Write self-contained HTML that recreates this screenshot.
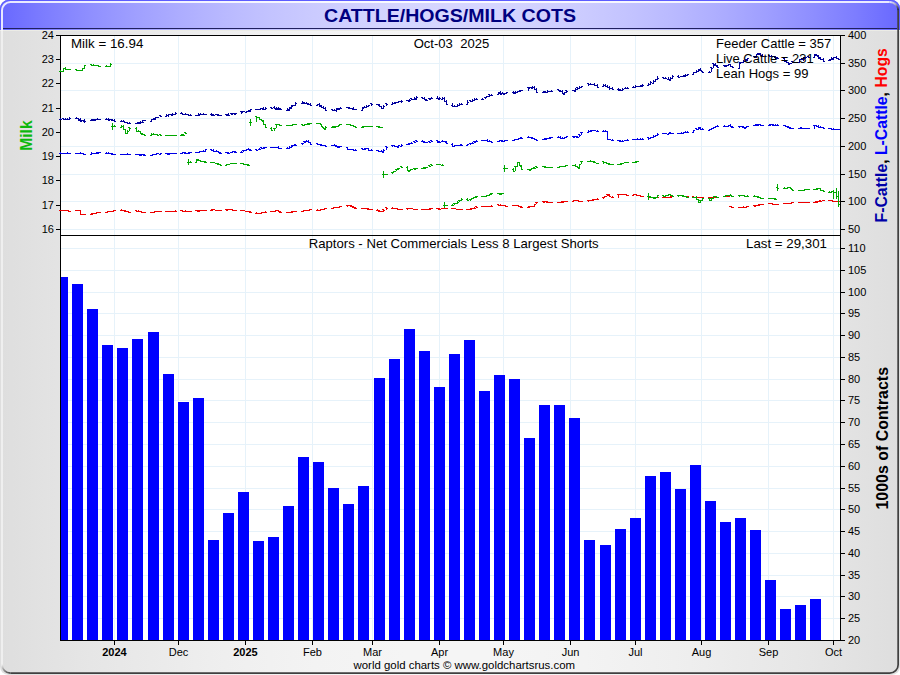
<!DOCTYPE html>
<html><head><meta charset="utf-8"><title>CATTLE/HOGS/MILK COTS</title>
<style>html,body{margin:0;padding:0;background:#fff;}svg{display:block;}text{font-family:"Liberation Sans",sans-serif;}</style></head><body>
<svg width="900" height="675" viewBox="0 0 900 675">
<defs>
<linearGradient id="gt" x1="0" x2="1" y1="0" y2="0"><stop offset="0.000" stop-color="#6868ff"/><stop offset="0.050" stop-color="#7d7dff"/><stop offset="0.100" stop-color="#8f8fff"/><stop offset="0.150" stop-color="#9f9fff"/><stop offset="0.200" stop-color="#adadff"/><stop offset="0.250" stop-color="#b9b9ff"/><stop offset="0.300" stop-color="#c3c3ff"/><stop offset="0.350" stop-color="#cbcbff"/><stop offset="0.400" stop-color="#d1d1ff"/><stop offset="0.450" stop-color="#d5d5ff"/><stop offset="0.500" stop-color="#d6d6ff"/><stop offset="0.550" stop-color="#d5d5ff"/><stop offset="0.600" stop-color="#d1d1ff"/><stop offset="0.650" stop-color="#cbcbff"/><stop offset="0.700" stop-color="#c3c3ff"/><stop offset="0.750" stop-color="#b9b9ff"/><stop offset="0.800" stop-color="#adadff"/><stop offset="0.850" stop-color="#9f9fff"/><stop offset="0.900" stop-color="#8f8fff"/><stop offset="0.950" stop-color="#7d7dff"/><stop offset="1.000" stop-color="#6868ff"/></linearGradient>
<linearGradient id="gb" x1="0" x2="1" y1="0" y2="0"><stop offset="0.000" stop-color="#dedede"/><stop offset="0.050" stop-color="#e2e2e2"/><stop offset="0.100" stop-color="#e6e6e6"/><stop offset="0.150" stop-color="#e9e9e9"/><stop offset="0.200" stop-color="#ececec"/><stop offset="0.250" stop-color="#efefef"/><stop offset="0.300" stop-color="#f1f1f1"/><stop offset="0.350" stop-color="#f3f3f3"/><stop offset="0.400" stop-color="#f4f4f4"/><stop offset="0.450" stop-color="#f5f5f5"/><stop offset="0.500" stop-color="#f5f5f5"/><stop offset="0.550" stop-color="#f5f5f5"/><stop offset="0.600" stop-color="#f4f4f4"/><stop offset="0.650" stop-color="#f3f3f3"/><stop offset="0.700" stop-color="#f1f1f1"/><stop offset="0.750" stop-color="#efefef"/><stop offset="0.800" stop-color="#ececec"/><stop offset="0.850" stop-color="#e9e9e9"/><stop offset="0.900" stop-color="#e6e6e6"/><stop offset="0.950" stop-color="#e2e2e2"/><stop offset="1.000" stop-color="#dedede"/></linearGradient>
<clipPath id="cf"><rect x="0" y="0" width="900" height="675" rx="8.5" ry="8.5"/></clipPath>
<clipPath id="cu"><rect x="59" y="36" width="781" height="199"/></clipPath>
<clipPath id="cl"><rect x="61" y="236" width="779" height="404"/></clipPath>
</defs>
<g clip-path="url(#cf)">
<rect x="0" y="0" width="900" height="675" fill="url(#gb)"/>
<rect x="0" y="0" width="900" height="30" fill="url(#gt)"/>
<rect x="3" y="28" width="894" height="1" fill="#20205e"/>
<rect x="0" y="30" width="900" height="1" fill="#ecece6"/>
</g>
<clipPath id="ct"><rect x="0" y="0" width="900" height="30"/></clipPath><clipPath id="cg"><rect x="0" y="30" width="900" height="645"/></clipPath>
<linearGradient id="gbl" gradientUnits="userSpaceOnUse" x1="2" y1="664.65" x2="10.5" y2="673.15"><stop offset="0" stop-color="#f0f0f0"/><stop offset="0.35" stop-color="#a0a0a0"/><stop offset="1" stop-color="#404040"/></linearGradient>
<linearGradient id="gtr" gradientUnits="userSpaceOnUse" x1="889.65" y1="2" x2="898.15" y2="10.5"><stop offset="0" stop-color="#e8e8ff"/><stop offset="0.45" stop-color="#b0b0d0"/><stop offset="1" stop-color="#181828"/></linearGradient>
<path d="M2 664.65V10.5A8.5 8.5 0 0 1 10.5 2H889.65" fill="none" stroke="#ffffff" stroke-opacity="0.85" stroke-width="2" clip-path="url(#ct)"/>
<path d="M2 664.65V10.5A8.5 8.5 0 0 1 10.5 2H889.65" fill="none" stroke="#ffffff" stroke-opacity="0.5" stroke-width="2" clip-path="url(#cg)"/>
<path d="M898.15 10.5V664.65A8.5 8.5 0 0 1 889.65 673.15H10.5" fill="none" stroke="#404040" stroke-width="1.7"/>
<path d="M10.5 673.15A8.5 8.5 0 0 1 2 664.65" fill="none" stroke="url(#gbl)" stroke-width="1.8"/>
<path d="M889.65 2A8.5 8.5 0 0 1 898.15 10.5" fill="none" stroke="url(#gtr)" stroke-width="1.8"/>
<path d="M0.5 30V8.5A8 8 0 0 1 8.5 0.5H891.5A8 8 0 0 1 899.5 8.5V30" fill="none" stroke="#5c5cff" stroke-width="1"/>
<text x="324" y="21.8" font-size="17.6" font-weight="bold" fill="#000080" textLength="252" lengthAdjust="spacingAndGlyphs">CATTLE/HOGS/MILK COTS</text>
<g shape-rendering="crispEdges">
<rect x="60" y="35" width="781" height="606" fill="#ffffff"/>
<rect x="114" y="36" width="1" height="604" fill="#e6f2fa"/>
<rect x="178" y="36" width="1" height="604" fill="#e6f2fa"/>
<rect x="245" y="36" width="1" height="604" fill="#e6f2fa"/>
<rect x="312" y="36" width="1" height="604" fill="#e6f2fa"/>
<rect x="372" y="36" width="1" height="604" fill="#e6f2fa"/>
<rect x="439" y="36" width="1" height="604" fill="#e6f2fa"/>
<rect x="503" y="36" width="1" height="604" fill="#e6f2fa"/>
<rect x="570" y="36" width="1" height="604" fill="#e6f2fa"/>
<rect x="635" y="36" width="1" height="604" fill="#e6f2fa"/>
<rect x="701" y="36" width="1" height="604" fill="#e6f2fa"/>
<rect x="768" y="36" width="1" height="604" fill="#e6f2fa"/>
<rect x="833" y="36" width="1" height="604" fill="#e6f2fa"/>
<rect x="61" y="229" width="779" height="1" fill="#e6f2fa"/>
<rect x="61" y="201" width="779" height="1" fill="#e6f2fa"/>
<rect x="61" y="174" width="779" height="1" fill="#e6f2fa"/>
<rect x="61" y="146" width="779" height="1" fill="#e6f2fa"/>
<rect x="61" y="118" width="779" height="1" fill="#e6f2fa"/>
<rect x="61" y="90" width="779" height="1" fill="#e6f2fa"/>
<rect x="61" y="63" width="779" height="1" fill="#e6f2fa"/>
<rect x="61" y="618" width="779" height="1" fill="#e6f2fa"/>
<rect x="61" y="596" width="779" height="1" fill="#e6f2fa"/>
<rect x="61" y="575" width="779" height="1" fill="#e6f2fa"/>
<rect x="61" y="553" width="779" height="1" fill="#e6f2fa"/>
<rect x="61" y="531" width="779" height="1" fill="#e6f2fa"/>
<rect x="61" y="509" width="779" height="1" fill="#e6f2fa"/>
<rect x="61" y="488" width="779" height="1" fill="#e6f2fa"/>
<rect x="61" y="466" width="779" height="1" fill="#e6f2fa"/>
<rect x="61" y="444" width="779" height="1" fill="#e6f2fa"/>
<rect x="61" y="422" width="779" height="1" fill="#e6f2fa"/>
<rect x="61" y="400" width="779" height="1" fill="#e6f2fa"/>
<rect x="61" y="379" width="779" height="1" fill="#e6f2fa"/>
<rect x="61" y="357" width="779" height="1" fill="#e6f2fa"/>
<rect x="61" y="335" width="779" height="1" fill="#e6f2fa"/>
<rect x="61" y="313" width="779" height="1" fill="#e6f2fa"/>
<rect x="61" y="292" width="779" height="1" fill="#e6f2fa"/>
<rect x="61" y="270" width="779" height="1" fill="#e6f2fa"/>
<rect x="61" y="248" width="779" height="1" fill="#e6f2fa"/>
</g>
<g clip-path="url(#cl)" shape-rendering="crispEdges" fill="#0000ff">
<path d="M57 277h11V640h-11zM72 284h11V640h-11zM87 309h11V640h-11zM102 345h11V640h-11zM117 348h11V640h-11zM132 339h11V640h-11zM148 332h11V640h-11zM163 374h11V640h-11zM178 402h11V640h-11zM193 398h11V640h-11zM208 540h11V640h-11zM223 513h11V640h-11zM238 492h11V640h-11zM253 541h11V640h-11zM268 537h11V640h-11zM283 506h11V640h-11zM298 457h11V640h-11zM313 462h11V640h-11zM328 488h11V640h-11zM343 504h11V640h-11zM358 486h11V640h-11zM374 378h11V640h-11zM389 359h11V640h-11zM404 329h11V640h-11zM419 351h11V640h-11zM434 387h11V640h-11zM449 354h11V640h-11zM464 340h11V640h-11zM479 391h11V640h-11zM494 375h11V640h-11zM509 379h11V640h-11zM524 438h11V640h-11zM539 405h11V640h-11zM554 405h11V640h-11zM569 418h11V640h-11zM584 540h11V640h-11zM600 545h11V640h-11zM615 529h11V640h-11zM630 518h11V640h-11zM645 476h11V640h-11zM660 472h11V640h-11zM675 489h11V640h-11zM690 465h11V640h-11zM705 501h11V640h-11zM720 522h11V640h-11zM735 518h11V640h-11zM750 530h11V640h-11zM765 580h11V640h-11zM780 609h11V640h-11zM795 605h11V640h-11zM810 599h11V640h-11z"/>
</g>
<g shape-rendering="crispEdges" fill="#000000">
<rect x="60" y="35" width="781" height="1"/>
<rect x="60" y="235" width="781" height="1"/>
<rect x="60" y="640" width="781" height="1"/>
<rect x="60" y="35" width="1" height="606"/>
<rect x="840" y="35" width="1" height="606"/>
<rect x="56" y="229" width="4" height="1"/>
<rect x="56" y="205" width="4" height="1"/>
<rect x="56" y="180" width="4" height="1"/>
<rect x="56" y="156" width="4" height="1"/>
<rect x="56" y="132" width="4" height="1"/>
<rect x="56" y="108" width="4" height="1"/>
<rect x="56" y="83" width="4" height="1"/>
<rect x="56" y="59" width="4" height="1"/>
<rect x="56" y="35" width="4" height="1"/>
<rect x="841" y="229" width="4" height="1"/>
<rect x="841" y="201" width="4" height="1"/>
<rect x="841" y="174" width="4" height="1"/>
<rect x="841" y="146" width="4" height="1"/>
<rect x="841" y="118" width="4" height="1"/>
<rect x="841" y="90" width="4" height="1"/>
<rect x="841" y="63" width="4" height="1"/>
<rect x="841" y="35" width="4" height="1"/>
<rect x="841" y="640" width="4" height="1"/>
<rect x="841" y="618" width="4" height="1"/>
<rect x="841" y="596" width="4" height="1"/>
<rect x="841" y="575" width="4" height="1"/>
<rect x="841" y="553" width="4" height="1"/>
<rect x="841" y="531" width="4" height="1"/>
<rect x="841" y="509" width="4" height="1"/>
<rect x="841" y="488" width="4" height="1"/>
<rect x="841" y="466" width="4" height="1"/>
<rect x="841" y="444" width="4" height="1"/>
<rect x="841" y="422" width="4" height="1"/>
<rect x="841" y="400" width="4" height="1"/>
<rect x="841" y="379" width="4" height="1"/>
<rect x="841" y="357" width="4" height="1"/>
<rect x="841" y="335" width="4" height="1"/>
<rect x="841" y="313" width="4" height="1"/>
<rect x="841" y="292" width="4" height="1"/>
<rect x="841" y="270" width="4" height="1"/>
<rect x="841" y="248" width="4" height="1"/>
<rect x="114" y="641" width="1" height="4"/>
<rect x="178" y="641" width="1" height="4"/>
<rect x="245" y="641" width="1" height="4"/>
<rect x="312" y="641" width="1" height="4"/>
<rect x="372" y="641" width="1" height="4"/>
<rect x="439" y="641" width="1" height="4"/>
<rect x="503" y="641" width="1" height="4"/>
<rect x="570" y="641" width="1" height="4"/>
<rect x="635" y="641" width="1" height="4"/>
<rect x="701" y="641" width="1" height="4"/>
<rect x="768" y="641" width="1" height="4"/>
<rect x="833" y="641" width="1" height="4"/>
</g>
<g clip-path="url(#cu)" shape-rendering="crispEdges">
<path fill="#ee0000" d="M60 210h1v1h-1zM59 210h1v1h-1zM61 210h1v1h-1zM63 210h1v1h-1zM62 210h1v1h-1zM64 210h1v1h-1zM65 210h1v1h-1zM64 210h1v1h-1zM66 210h1v1h-1zM67 210h1v1h-1zM66 210h1v1h-1zM68 210h1v1h-1zM69 211h1v1h-1zM68 211h1v1h-1zM70 211h1v1h-1zM76 210h1v1h-1zM75 210h1v1h-1zM77 210h1v1h-1zM78 210h1v1h-1zM77 210h1v1h-1zM79 210h1v1h-1zM80 210h1v5h-1zM79 210h1v1h-1zM81 214h1v1h-1zM82 214h1v1h-1zM81 214h1v1h-1zM83 214h1v1h-1zM84 214h1v1h-1zM83 214h1v1h-1zM85 214h1v1h-1zM91 213h1v2h-1zM90 214h1v1h-1zM92 214h1v1h-1zM93 213h1v1h-1zM92 213h1v1h-1zM94 213h1v1h-1zM95 213h1v1h-1zM94 213h1v1h-1zM96 213h1v1h-1zM97 212h1v1h-1zM96 212h1v1h-1zM98 212h1v1h-1zM99 212h1v1h-1zM98 212h1v1h-1zM100 212h1v1h-1zM106 212h1v1h-1zM105 212h1v1h-1zM107 212h1v1h-1zM108 211h1v1h-1zM107 211h1v1h-1zM109 211h1v1h-1zM110 211h1v1h-1zM109 211h1v1h-1zM111 211h1v1h-1zM112 211h1v1h-1zM111 211h1v1h-1zM113 211h1v1h-1zM114 210h1v1h-1zM113 210h1v1h-1zM115 210h1v1h-1zM121 209h1v2h-1zM120 210h1v1h-1zM122 210h1v1h-1zM123 210h1v1h-1zM122 210h1v1h-1zM124 210h1v1h-1zM125 210h1v2h-1zM124 211h1v1h-1zM126 211h1v1h-1zM127 211h1v1h-1zM126 211h1v1h-1zM128 211h1v1h-1zM129 212h1v1h-1zM128 212h1v1h-1zM130 212h1v1h-1zM136 210h1v2h-1zM135 210h1v1h-1zM137 211h1v1h-1zM138 210h1v2h-1zM137 211h1v1h-1zM139 211h1v1h-1zM140 211h1v1h-1zM139 211h1v1h-1zM141 211h1v1h-1zM142 212h1v1h-1zM141 212h1v1h-1zM143 212h1v1h-1zM144 212h1v1h-1zM143 212h1v1h-1zM145 212h1v1h-1zM151 212h1v1h-1zM150 212h1v1h-1zM152 212h1v1h-1zM153 212h1v1h-1zM152 212h1v1h-1zM154 212h1v1h-1zM155 211h1v1h-1zM154 211h1v1h-1zM156 211h1v1h-1zM157 211h1v1h-1zM156 211h1v1h-1zM158 211h1v1h-1zM160 211h1v1h-1zM159 211h1v1h-1zM161 211h1v1h-1zM166 211h1v1h-1zM165 211h1v1h-1zM167 211h1v1h-1zM168 211h1v1h-1zM167 211h1v1h-1zM169 211h1v1h-1zM170 211h1v1h-1zM169 211h1v1h-1zM171 211h1v1h-1zM172 211h1v1h-1zM171 211h1v1h-1zM173 211h1v1h-1zM175 210h1v2h-1zM174 211h1v1h-1zM176 211h1v1h-1zM181 210h1v1h-1zM180 210h1v1h-1zM182 210h1v1h-1zM183 211h1v1h-1zM182 211h1v1h-1zM184 211h1v1h-1zM185 210h1v2h-1zM184 211h1v1h-1zM186 211h1v1h-1zM188 211h1v1h-1zM187 211h1v1h-1zM189 211h1v1h-1zM190 211h1v1h-1zM189 211h1v1h-1zM191 211h1v1h-1zM196 210h1v1h-1zM195 210h1v1h-1zM197 210h1v1h-1zM198 210h1v2h-1zM197 211h1v1h-1zM199 211h1v1h-1zM200 210h1v1h-1zM199 210h1v1h-1zM201 210h1v1h-1zM203 210h1v1h-1zM202 210h1v1h-1zM204 210h1v1h-1zM205 210h1v1h-1zM204 210h1v1h-1zM206 210h1v1h-1zM211 209h1v2h-1zM210 210h1v1h-1zM212 210h1v1h-1zM213 209h1v1h-1zM212 209h1v1h-1zM214 209h1v1h-1zM216 210h1v1h-1zM215 210h1v1h-1zM217 210h1v1h-1zM218 210h1v1h-1zM217 210h1v1h-1zM219 210h1v1h-1zM220 210h1v1h-1zM219 210h1v1h-1zM221 210h1v1h-1zM226 209h1v2h-1zM225 209h1v1h-1zM227 210h1v1h-1zM228 209h1v1h-1zM227 209h1v1h-1zM229 209h1v1h-1zM231 209h1v1h-1zM230 209h1v1h-1zM232 209h1v1h-1zM233 210h1v1h-1zM232 210h1v1h-1zM234 210h1v1h-1zM235 210h1v1h-1zM234 210h1v1h-1zM236 210h1v1h-1zM241 210h1v1h-1zM240 210h1v1h-1zM242 210h1v1h-1zM243 210h1v1h-1zM242 210h1v1h-1zM244 210h1v1h-1zM246 211h1v1h-1zM245 211h1v1h-1zM247 211h1v1h-1zM248 211h1v1h-1zM247 211h1v1h-1zM249 211h1v1h-1zM250 211h1v2h-1zM249 212h1v1h-1zM251 212h1v1h-1zM256 212h1v2h-1zM255 213h1v1h-1zM257 213h1v1h-1zM259 213h1v1h-1zM258 213h1v1h-1zM260 213h1v1h-1zM261 212h1v2h-1zM260 213h1v1h-1zM262 212h1v1h-1zM263 212h1v1h-1zM262 212h1v1h-1zM264 212h1v1h-1zM265 211h1v2h-1zM264 212h1v1h-1zM266 212h1v1h-1zM271 211h1v1h-1zM270 211h1v1h-1zM272 211h1v1h-1zM274 211h1v1h-1zM273 211h1v1h-1zM275 211h1v1h-1zM276 210h1v1h-1zM275 210h1v1h-1zM277 210h1v1h-1zM278 210h1v2h-1zM277 210h1v1h-1zM279 211h1v1h-1zM280 211h1v2h-1zM279 212h1v1h-1zM281 212h1v1h-1zM287 212h1v1h-1zM286 212h1v1h-1zM288 212h1v1h-1zM289 212h1v1h-1zM288 212h1v1h-1zM290 212h1v1h-1zM291 211h1v2h-1zM290 212h1v1h-1zM292 212h1v1h-1zM293 211h1v1h-1zM292 211h1v1h-1zM294 211h1v1h-1zM295 211h1v1h-1zM294 211h1v1h-1zM296 211h1v1h-1zM302 211h1v1h-1zM301 211h1v1h-1zM303 211h1v1h-1zM304 210h1v1h-1zM303 210h1v1h-1zM305 210h1v1h-1zM306 210h1v1h-1zM305 210h1v1h-1zM307 210h1v1h-1zM308 210h1v1h-1zM307 210h1v1h-1zM309 210h1v1h-1zM310 209h1v1h-1zM309 209h1v1h-1zM311 209h1v1h-1zM317 209h1v2h-1zM316 210h1v1h-1zM318 210h1v1h-1zM319 210h1v1h-1zM318 210h1v1h-1zM320 210h1v1h-1zM321 209h1v1h-1zM320 209h1v1h-1zM322 209h1v1h-1zM323 209h1v1h-1zM322 209h1v1h-1zM324 209h1v1h-1zM325 208h1v1h-1zM324 208h1v1h-1zM326 208h1v1h-1zM332 208h1v1h-1zM331 208h1v1h-1zM333 208h1v1h-1zM334 207h1v1h-1zM333 207h1v1h-1zM335 207h1v1h-1zM336 207h1v1h-1zM335 207h1v1h-1zM337 207h1v1h-1zM338 207h1v1h-1zM337 207h1v1h-1zM339 207h1v1h-1zM340 206h1v1h-1zM339 206h1v1h-1zM341 206h1v1h-1zM347 205h1v2h-1zM346 205h1v1h-1zM348 205h1v1h-1zM349 205h1v1h-1zM348 205h1v1h-1zM350 205h1v1h-1zM351 205h1v2h-1zM350 206h1v1h-1zM352 206h1v1h-1zM353 206h1v2h-1zM352 207h1v1h-1zM354 207h1v1h-1zM355 207h1v2h-1zM354 208h1v1h-1zM356 208h1v1h-1zM362 208h1v1h-1zM361 208h1v1h-1zM363 208h1v1h-1zM364 208h1v1h-1zM363 208h1v1h-1zM365 208h1v1h-1zM366 208h1v1h-1zM365 208h1v1h-1zM367 208h1v1h-1zM368 208h1v2h-1zM367 209h1v1h-1zM369 209h1v1h-1zM371 209h1v1h-1zM370 209h1v1h-1zM372 209h1v1h-1zM377 209h1v2h-1zM376 210h1v1h-1zM378 210h1v1h-1zM379 210h1v2h-1zM378 211h1v1h-1zM380 211h1v1h-1zM381 211h1v1h-1zM380 211h1v1h-1zM382 211h1v1h-1zM383 209h1v3h-1zM382 209h1v1h-1zM384 210h1v1h-1zM386 207h1v3h-1zM385 207h1v1h-1zM387 208h1v1h-1zM392 207h1v2h-1zM391 208h1v1h-1zM393 208h1v1h-1zM394 208h1v1h-1zM393 208h1v1h-1zM395 208h1v1h-1zM396 208h1v1h-1zM395 208h1v1h-1zM397 208h1v1h-1zM398 209h1v1h-1zM397 209h1v1h-1zM399 209h1v1h-1zM401 209h1v1h-1zM400 209h1v1h-1zM402 209h1v1h-1zM407 208h1v2h-1zM406 208h1v1h-1zM408 208h1v1h-1zM409 208h1v1h-1zM408 208h1v1h-1zM410 208h1v1h-1zM411 208h1v1h-1zM410 208h1v1h-1zM412 208h1v1h-1zM414 209h1v1h-1zM413 209h1v1h-1zM415 209h1v1h-1zM416 209h1v1h-1zM415 209h1v1h-1zM417 209h1v1h-1zM422 209h1v1h-1zM421 209h1v1h-1zM423 209h1v1h-1zM424 209h1v1h-1zM423 209h1v1h-1zM425 209h1v1h-1zM426 209h1v1h-1zM425 209h1v1h-1zM427 209h1v1h-1zM429 208h1v2h-1zM428 209h1v1h-1zM430 209h1v1h-1zM431 208h1v1h-1zM430 208h1v1h-1zM432 208h1v1h-1zM437 208h1v1h-1zM436 208h1v1h-1zM438 208h1v1h-1zM439 208h1v2h-1zM438 209h1v1h-1zM440 209h1v1h-1zM442 208h1v1h-1zM441 208h1v1h-1zM443 208h1v1h-1zM444 208h1v1h-1zM443 208h1v1h-1zM445 208h1v1h-1zM446 208h1v1h-1zM445 208h1v1h-1zM447 208h1v1h-1zM452 208h1v1h-1zM451 208h1v1h-1zM453 208h1v1h-1zM454 208h1v1h-1zM453 208h1v1h-1zM455 208h1v1h-1zM457 209h1v1h-1zM456 209h1v1h-1zM458 209h1v1h-1zM459 209h1v1h-1zM458 209h1v1h-1zM460 209h1v1h-1zM461 209h1v1h-1zM460 209h1v1h-1zM462 209h1v1h-1zM467 209h1v1h-1zM466 209h1v1h-1zM468 209h1v1h-1zM470 208h1v2h-1zM469 209h1v1h-1zM471 209h1v1h-1zM472 208h1v1h-1zM471 208h1v1h-1zM473 208h1v1h-1zM474 207h1v2h-1zM473 208h1v1h-1zM475 208h1v1h-1zM476 206h1v2h-1zM475 206h1v1h-1zM477 207h1v1h-1zM482 206h1v1h-1zM481 206h1v1h-1zM483 206h1v1h-1zM485 206h1v1h-1zM484 206h1v1h-1zM486 206h1v1h-1zM487 206h1v1h-1zM486 206h1v1h-1zM488 206h1v1h-1zM489 206h1v1h-1zM488 206h1v1h-1zM490 206h1v1h-1zM491 205h1v2h-1zM490 206h1v1h-1zM492 206h1v1h-1zM498 204h1v2h-1zM497 204h1v1h-1zM499 205h1v1h-1zM500 204h1v2h-1zM499 205h1v1h-1zM501 205h1v1h-1zM502 205h1v1h-1zM501 205h1v1h-1zM503 205h1v1h-1zM504 205h1v1h-1zM503 205h1v1h-1zM505 205h1v1h-1zM506 206h1v1h-1zM505 206h1v1h-1zM507 206h1v1h-1zM513 205h1v1h-1zM512 205h1v1h-1zM514 205h1v1h-1zM515 205h1v1h-1zM514 205h1v1h-1zM516 205h1v1h-1zM517 205h1v1h-1zM516 205h1v1h-1zM518 205h1v1h-1zM519 206h1v1h-1zM518 206h1v1h-1zM520 206h1v1h-1zM521 206h1v2h-1zM520 207h1v1h-1zM522 207h1v1h-1zM528 206h1v2h-1zM527 207h1v1h-1zM529 207h1v1h-1zM530 206h1v1h-1zM529 206h1v1h-1zM531 206h1v1h-1zM532 206h1v1h-1zM531 206h1v1h-1zM533 206h1v1h-1zM534 204h1v3h-1zM533 206h1v1h-1zM535 204h1v1h-1zM536 202h1v2h-1zM535 202h1v1h-1zM537 202h1v1h-1zM543 201h1v2h-1zM542 201h1v1h-1zM544 202h1v1h-1zM545 201h1v1h-1zM544 201h1v1h-1zM546 201h1v1h-1zM547 201h1v2h-1zM546 202h1v1h-1zM548 202h1v1h-1zM549 202h1v1h-1zM548 202h1v1h-1zM550 202h1v1h-1zM551 202h1v1h-1zM550 202h1v1h-1zM552 202h1v1h-1zM558 202h1v1h-1zM557 202h1v1h-1zM559 202h1v1h-1zM560 202h1v1h-1zM559 202h1v1h-1zM561 202h1v1h-1zM562 201h1v2h-1zM561 201h1v1h-1zM563 202h1v1h-1zM564 201h1v1h-1zM563 201h1v1h-1zM565 201h1v1h-1zM566 201h1v1h-1zM565 201h1v1h-1zM567 201h1v1h-1zM573 200h1v2h-1zM572 201h1v1h-1zM574 200h1v1h-1zM575 200h1v1h-1zM574 200h1v1h-1zM576 200h1v1h-1zM577 200h1v1h-1zM576 200h1v1h-1zM578 200h1v1h-1zM579 201h1v1h-1zM578 201h1v1h-1zM580 201h1v1h-1zM581 201h1v1h-1zM580 201h1v1h-1zM582 201h1v1h-1zM588 200h1v2h-1zM587 200h1v1h-1zM589 200h1v1h-1zM590 200h1v1h-1zM589 200h1v1h-1zM591 200h1v1h-1zM592 199h1v2h-1zM591 200h1v1h-1zM593 200h1v1h-1zM594 199h1v1h-1zM593 199h1v1h-1zM595 199h1v1h-1zM597 198h1v2h-1zM596 199h1v1h-1zM598 199h1v1h-1zM603 197h1v2h-1zM602 197h1v1h-1zM604 197h1v1h-1zM605 196h1v1h-1zM604 196h1v1h-1zM606 196h1v1h-1zM607 194h1v2h-1zM606 194h1v1h-1zM608 194h1v1h-1zM609 194h1v3h-1zM608 195h1v1h-1zM610 196h1v1h-1zM612 196h1v2h-1zM611 197h1v1h-1zM613 197h1v1h-1zM618 194h1v4h-1zM617 194h1v1h-1zM619 194h1v1h-1zM620 194h1v1h-1zM619 194h1v1h-1zM621 194h1v1h-1zM622 194h1v1h-1zM621 194h1v1h-1zM623 194h1v1h-1zM625 194h1v1h-1zM624 194h1v1h-1zM626 194h1v1h-1zM627 195h1v1h-1zM626 195h1v1h-1zM628 195h1v1h-1zM633 194h1v2h-1zM632 195h1v1h-1zM634 194h1v1h-1zM635 194h1v1h-1zM634 194h1v1h-1zM636 194h1v1h-1zM637 195h1v1h-1zM636 195h1v1h-1zM638 195h1v1h-1zM640 195h1v2h-1zM639 195h1v1h-1zM641 196h1v1h-1zM642 196h1v1h-1zM641 196h1v1h-1zM643 196h1v1h-1zM648 196h1v1h-1zM647 196h1v1h-1zM649 196h1v1h-1zM650 197h1v1h-1zM649 197h1v1h-1zM651 197h1v1h-1zM653 197h1v1h-1zM652 197h1v1h-1zM654 197h1v1h-1zM655 197h1v1h-1zM654 197h1v1h-1zM656 197h1v1h-1zM657 197h1v1h-1zM656 197h1v1h-1zM658 197h1v1h-1zM663 197h1v1h-1zM662 197h1v1h-1zM664 197h1v1h-1zM665 197h1v1h-1zM664 197h1v1h-1zM666 197h1v1h-1zM668 197h1v1h-1zM667 197h1v1h-1zM669 197h1v1h-1zM670 196h1v2h-1zM669 197h1v1h-1zM671 197h1v1h-1zM672 196h1v1h-1zM671 196h1v1h-1zM673 196h1v1h-1zM678 195h1v2h-1zM677 195h1v1h-1zM679 195h1v1h-1zM681 195h1v1h-1zM680 195h1v1h-1zM682 195h1v1h-1zM683 195h1v2h-1zM682 196h1v1h-1zM684 196h1v1h-1zM685 196h1v1h-1zM684 196h1v1h-1zM686 196h1v1h-1zM687 196h1v1h-1zM686 196h1v1h-1zM688 196h1v1h-1zM693 196h1v2h-1zM692 196h1v1h-1zM694 197h1v1h-1zM696 197h1v1h-1zM695 197h1v1h-1zM697 197h1v1h-1zM698 197h1v1h-1zM697 197h1v1h-1zM699 197h1v1h-1zM700 197h1v1h-1zM699 197h1v1h-1zM701 197h1v1h-1zM702 197h1v1h-1zM701 197h1v1h-1zM703 197h1v1h-1zM709 197h1v1h-1zM708 197h1v1h-1zM710 197h1v1h-1zM711 197h1v1h-1zM710 197h1v1h-1zM712 197h1v1h-1zM713 197h1v1h-1zM712 197h1v1h-1zM714 197h1v1h-1zM715 197h1v1h-1zM714 197h1v1h-1zM716 197h1v1h-1zM717 197h1v1h-1zM716 197h1v1h-1zM718 197h1v1h-1zM724 196h1v1h-1zM723 196h1v1h-1zM725 196h1v1h-1zM726 196h1v1h-1zM725 196h1v1h-1zM727 196h1v1h-1zM728 196h1v1h-1zM727 196h1v1h-1zM729 196h1v1h-1zM730 206h1v1h-1zM729 206h1v1h-1zM731 206h1v1h-1zM732 207h1v1h-1zM731 207h1v1h-1zM733 207h1v1h-1zM739 207h1v1h-1zM738 207h1v1h-1zM740 207h1v1h-1zM741 207h1v1h-1zM740 207h1v1h-1zM742 207h1v1h-1zM743 206h1v2h-1zM742 207h1v1h-1zM744 207h1v1h-1zM745 207h1v1h-1zM744 207h1v1h-1zM746 207h1v1h-1zM747 206h1v1h-1zM746 206h1v1h-1zM748 206h1v1h-1zM754 205h1v2h-1zM753 205h1v1h-1zM755 206h1v1h-1zM756 205h1v1h-1zM755 205h1v1h-1zM757 205h1v1h-1zM758 204h1v2h-1zM757 205h1v1h-1zM759 205h1v1h-1zM760 204h1v1h-1zM759 204h1v1h-1zM761 204h1v1h-1zM762 204h1v1h-1zM761 204h1v1h-1zM763 204h1v1h-1zM769 203h1v1h-1zM768 203h1v1h-1zM770 203h1v1h-1zM771 203h1v1h-1zM770 203h1v1h-1zM772 203h1v1h-1zM773 204h1v1h-1zM772 204h1v1h-1zM774 204h1v1h-1zM775 204h1v1h-1zM774 204h1v1h-1zM776 204h1v1h-1zM777 204h1v1h-1zM776 204h1v1h-1zM778 204h1v1h-1zM784 203h1v1h-1zM783 203h1v1h-1zM785 203h1v1h-1zM786 203h1v1h-1zM785 203h1v1h-1zM787 203h1v1h-1zM788 203h1v1h-1zM787 203h1v1h-1zM789 203h1v1h-1zM790 203h1v1h-1zM789 203h1v1h-1zM791 203h1v1h-1zM792 202h1v1h-1zM791 202h1v1h-1zM793 202h1v1h-1zM799 202h1v1h-1zM798 202h1v1h-1zM800 202h1v1h-1zM801 202h1v1h-1zM800 202h1v1h-1zM802 202h1v1h-1zM803 202h1v1h-1zM802 202h1v1h-1zM804 202h1v1h-1zM805 202h1v1h-1zM804 202h1v1h-1zM806 202h1v1h-1zM808 202h1v1h-1zM807 202h1v1h-1zM809 202h1v1h-1zM814 202h1v1h-1zM813 202h1v1h-1zM815 202h1v1h-1zM816 201h1v2h-1zM815 201h1v1h-1zM817 202h1v1h-1zM818 201h1v1h-1zM817 201h1v1h-1zM819 201h1v1h-1zM820 200h1v2h-1zM819 200h1v1h-1zM821 201h1v1h-1zM823 200h1v1h-1zM822 200h1v1h-1zM824 200h1v1h-1zM829 200h1v1h-1zM828 200h1v1h-1zM830 200h1v1h-1zM831 200h1v1h-1zM830 200h1v1h-1zM832 200h1v1h-1zM833 201h1v1h-1zM832 201h1v1h-1zM834 201h1v1h-1zM836 201h1v1h-1zM835 201h1v1h-1zM837 201h1v1h-1zM838 201h1v1h-1zM837 201h1v1h-1zM839 201h1v1h-1z"/>
<path fill="#00a800" d="M60 70h1v2h-1zM59 71h1v1h-1zM61 71h1v1h-1zM63 68h1v4h-1zM62 71h1v1h-1zM64 68h1v1h-1zM65 67h1v3h-1zM64 68h1v1h-1zM66 69h1v1h-1zM67 69h1v1h-1zM66 69h1v1h-1zM68 69h1v1h-1zM69 69h1v1h-1zM68 69h1v1h-1zM70 69h1v1h-1zM76 69h1v2h-1zM75 69h1v1h-1zM77 70h1v1h-1zM78 70h1v1h-1zM77 70h1v1h-1zM79 70h1v1h-1zM80 70h1v1h-1zM79 70h1v1h-1zM81 70h1v1h-1zM82 68h1v3h-1zM81 70h1v1h-1zM83 68h1v1h-1zM84 65h1v4h-1zM83 68h1v1h-1zM85 65h1v1h-1zM91 64h1v2h-1zM90 64h1v1h-1zM92 65h1v1h-1zM93 64h1v2h-1zM92 65h1v1h-1zM94 65h1v1h-1zM95 65h1v1h-1zM94 65h1v1h-1zM96 65h1v1h-1zM97 65h1v1h-1zM96 65h1v1h-1zM98 65h1v1h-1zM99 66h1v1h-1zM98 66h1v1h-1zM100 66h1v1h-1zM106 65h1v2h-1zM105 66h1v1h-1zM107 66h1v1h-1zM108 66h1v1h-1zM107 66h1v1h-1zM109 66h1v1h-1zM110 63h1v4h-1zM109 66h1v1h-1zM111 64h1v1h-1zM112 123h1v7h-1zM111 126h1v1h-1zM113 126h1v1h-1zM114 125h1v2h-1zM113 126h1v1h-1zM115 126h1v1h-1zM121 125h1v3h-1zM120 127h1v1h-1zM122 126h1v1h-1zM123 125h1v5h-1zM122 126h1v1h-1zM124 129h1v1h-1zM125 129h1v5h-1zM124 129h1v1h-1zM126 133h1v1h-1zM127 130h1v4h-1zM126 133h1v1h-1zM128 131h1v1h-1zM129 127h1v4h-1zM128 127h1v1h-1zM130 128h1v1h-1zM136 127h1v5h-1zM135 128h1v1h-1zM137 131h1v1h-1zM138 130h1v2h-1zM137 131h1v1h-1zM139 131h1v1h-1zM140 131h1v3h-1zM139 131h1v1h-1zM141 133h1v1h-1zM142 133h1v2h-1zM141 134h1v1h-1zM143 134h1v1h-1zM144 134h1v2h-1zM143 134h1v1h-1zM145 135h1v1h-1zM151 133h1v3h-1zM150 135h1v1h-1zM152 134h1v1h-1zM153 133h1v2h-1zM152 134h1v1h-1zM154 134h1v1h-1zM155 134h1v1h-1zM154 134h1v1h-1zM156 134h1v1h-1zM157 134h1v2h-1zM156 134h1v1h-1zM158 135h1v1h-1zM160 134h1v2h-1zM159 134h1v1h-1zM161 135h1v1h-1zM166 135h1v1h-1zM165 135h1v1h-1zM167 135h1v1h-1zM168 135h1v1h-1zM167 135h1v1h-1zM169 135h1v1h-1zM170 135h1v1h-1zM169 135h1v1h-1zM171 135h1v1h-1zM172 135h1v1h-1zM171 135h1v1h-1zM173 135h1v1h-1zM175 135h1v1h-1zM174 135h1v1h-1zM176 135h1v1h-1zM181 134h1v2h-1zM180 135h1v1h-1zM182 135h1v1h-1zM183 134h1v2h-1zM182 134h1v1h-1zM184 135h1v1h-1zM185 132h1v2h-1zM184 132h1v1h-1zM186 133h1v1h-1zM188 159h1v6h-1zM187 162h1v1h-1zM189 162h1v1h-1zM190 161h1v2h-1zM189 162h1v1h-1zM191 162h1v1h-1zM196 159h1v4h-1zM195 162h1v1h-1zM197 160h1v1h-1zM198 159h1v2h-1zM197 159h1v1h-1zM199 160h1v1h-1zM200 160h1v2h-1zM199 160h1v1h-1zM201 161h1v1h-1zM203 161h1v1h-1zM202 161h1v1h-1zM204 161h1v1h-1zM205 161h1v2h-1zM204 162h1v1h-1zM206 162h1v1h-1zM211 162h1v1h-1zM210 162h1v1h-1zM212 162h1v1h-1zM213 162h1v1h-1zM212 162h1v1h-1zM214 162h1v1h-1zM216 163h1v1h-1zM215 163h1v1h-1zM217 163h1v1h-1zM218 163h1v2h-1zM217 164h1v1h-1zM219 164h1v1h-1zM220 164h1v2h-1zM219 164h1v1h-1zM221 165h1v1h-1zM226 164h1v2h-1zM225 165h1v1h-1zM227 164h1v1h-1zM228 164h1v1h-1zM227 164h1v1h-1zM229 164h1v1h-1zM231 163h1v1h-1zM230 163h1v1h-1zM232 163h1v1h-1zM233 163h1v1h-1zM232 163h1v1h-1zM234 163h1v1h-1zM235 163h1v1h-1zM234 163h1v1h-1zM236 163h1v1h-1zM241 163h1v1h-1zM240 163h1v1h-1zM242 163h1v1h-1zM243 163h1v2h-1zM242 163h1v1h-1zM244 164h1v1h-1zM246 164h1v1h-1zM245 164h1v1h-1zM247 164h1v1h-1zM248 164h1v2h-1zM247 165h1v1h-1zM249 165h1v1h-1zM250 119h1v7h-1zM249 122h1v1h-1zM251 122h1v1h-1zM256 116h1v6h-1zM255 116h1v1h-1zM257 117h1v1h-1zM259 117h1v3h-1zM258 117h1v1h-1zM260 119h1v1h-1zM261 119h1v2h-1zM260 119h1v1h-1zM262 120h1v1h-1zM263 120h1v5h-1zM262 121h1v1h-1zM264 124h1v1h-1zM265 124h1v4h-1zM264 124h1v1h-1zM266 127h1v1h-1zM271 127h1v4h-1zM270 128h1v1h-1zM272 130h1v1h-1zM274 128h1v3h-1zM273 128h1v1h-1zM275 128h1v1h-1zM276 124h1v4h-1zM275 124h1v1h-1zM277 124h1v1h-1zM278 124h1v1h-1zM277 124h1v1h-1zM279 124h1v1h-1zM280 125h1v1h-1zM279 125h1v1h-1zM281 125h1v1h-1zM287 125h1v1h-1zM286 125h1v1h-1zM288 125h1v1h-1zM289 125h1v1h-1zM288 125h1v1h-1zM290 125h1v1h-1zM291 125h1v1h-1zM290 125h1v1h-1zM292 125h1v1h-1zM293 124h1v1h-1zM292 124h1v1h-1zM294 124h1v1h-1zM295 124h1v1h-1zM294 124h1v1h-1zM296 124h1v1h-1zM302 124h1v2h-1zM301 124h1v1h-1zM303 125h1v1h-1zM304 124h1v2h-1zM303 125h1v1h-1zM305 124h1v1h-1zM306 124h1v1h-1zM305 124h1v1h-1zM307 124h1v1h-1zM308 123h1v2h-1zM307 123h1v1h-1zM309 124h1v1h-1zM310 123h1v1h-1zM309 123h1v1h-1zM311 123h1v1h-1zM317 123h1v1h-1zM316 123h1v1h-1zM318 123h1v1h-1zM319 123h1v1h-1zM318 123h1v1h-1zM320 123h1v1h-1zM321 124h1v3h-1zM320 124h1v1h-1zM322 126h1v1h-1zM323 127h1v2h-1zM322 127h1v1h-1zM324 128h1v1h-1zM325 126h1v4h-1zM324 129h1v1h-1zM326 127h1v1h-1zM332 126h1v2h-1zM331 127h1v1h-1zM333 127h1v1h-1zM334 126h1v2h-1zM333 126h1v1h-1zM335 127h1v1h-1zM336 126h1v1h-1zM335 126h1v1h-1zM337 126h1v1h-1zM338 125h1v2h-1zM337 126h1v1h-1zM339 125h1v1h-1zM340 124h1v1h-1zM339 124h1v1h-1zM341 124h1v1h-1zM347 124h1v1h-1zM346 124h1v1h-1zM348 124h1v1h-1zM349 124h1v1h-1zM348 124h1v1h-1zM350 124h1v1h-1zM351 125h1v1h-1zM350 125h1v1h-1zM352 125h1v1h-1zM353 125h1v2h-1zM352 125h1v1h-1zM354 126h1v1h-1zM355 126h1v2h-1zM354 126h1v1h-1zM356 127h1v1h-1zM362 126h1v2h-1zM361 127h1v1h-1zM363 127h1v1h-1zM364 126h1v1h-1zM363 126h1v1h-1zM365 126h1v1h-1zM366 126h1v1h-1zM365 126h1v1h-1zM367 126h1v1h-1zM368 126h1v1h-1zM367 126h1v1h-1zM369 126h1v1h-1zM371 126h1v1h-1zM370 126h1v1h-1zM372 126h1v1h-1zM377 126h1v1h-1zM376 126h1v1h-1zM378 126h1v1h-1zM379 126h1v2h-1zM378 127h1v1h-1zM380 127h1v1h-1zM381 127h1v1h-1zM380 127h1v1h-1zM382 127h1v1h-1zM383 171h1v7h-1zM382 174h1v1h-1zM384 174h1v1h-1zM386 174h1v1h-1zM385 174h1v1h-1zM387 174h1v1h-1zM392 172h1v2h-1zM391 172h1v1h-1zM393 172h1v1h-1zM394 171h1v1h-1zM393 171h1v1h-1zM395 171h1v1h-1zM396 169h1v2h-1zM395 169h1v1h-1zM397 169h1v1h-1zM398 168h1v2h-1zM397 168h1v1h-1zM399 168h1v1h-1zM401 166h1v2h-1zM400 166h1v1h-1zM402 167h1v1h-1zM407 166h1v5h-1zM406 167h1v1h-1zM408 170h1v1h-1zM409 170h1v2h-1zM408 171h1v1h-1zM410 170h1v1h-1zM411 169h1v1h-1zM410 169h1v1h-1zM412 169h1v1h-1zM414 168h1v2h-1zM413 168h1v1h-1zM415 169h1v1h-1zM416 168h1v1h-1zM415 168h1v1h-1zM417 168h1v1h-1zM422 168h1v1h-1zM421 168h1v1h-1zM423 168h1v1h-1zM424 167h1v2h-1zM423 167h1v1h-1zM425 168h1v1h-1zM426 167h1v1h-1zM425 167h1v1h-1zM427 167h1v1h-1zM429 165h1v2h-1zM428 165h1v1h-1zM430 166h1v1h-1zM431 164h1v2h-1zM430 164h1v1h-1zM432 165h1v1h-1zM437 164h1v1h-1zM436 164h1v1h-1zM438 164h1v1h-1zM439 164h1v1h-1zM438 164h1v1h-1zM440 164h1v1h-1zM442 164h1v2h-1zM441 165h1v1h-1zM443 165h1v1h-1zM444 202h1v6h-1zM443 205h1v1h-1zM445 205h1v1h-1zM446 205h1v1h-1zM445 205h1v1h-1zM447 205h1v1h-1zM452 204h1v2h-1zM451 205h1v1h-1zM453 205h1v1h-1zM454 203h1v2h-1zM453 203h1v1h-1zM455 203h1v1h-1zM457 201h1v3h-1zM456 203h1v1h-1zM458 202h1v1h-1zM459 200h1v2h-1zM458 200h1v1h-1zM460 200h1v1h-1zM461 198h1v3h-1zM460 200h1v1h-1zM462 199h1v1h-1zM467 198h1v3h-1zM466 199h1v1h-1zM468 200h1v1h-1zM470 199h1v2h-1zM469 199h1v1h-1zM471 199h1v1h-1zM472 198h1v1h-1zM471 198h1v1h-1zM473 198h1v1h-1zM474 197h1v1h-1zM473 197h1v1h-1zM475 197h1v1h-1zM476 196h1v2h-1zM475 196h1v1h-1zM477 196h1v1h-1zM482 196h1v1h-1zM481 196h1v1h-1zM483 196h1v1h-1zM485 196h1v1h-1zM484 196h1v1h-1zM486 196h1v1h-1zM487 195h1v1h-1zM486 195h1v1h-1zM488 195h1v1h-1zM489 194h1v2h-1zM488 195h1v1h-1zM490 194h1v1h-1zM491 193h1v2h-1zM490 193h1v1h-1zM492 193h1v1h-1zM498 193h1v1h-1zM497 193h1v1h-1zM499 193h1v1h-1zM500 193h1v2h-1zM499 194h1v1h-1zM501 194h1v1h-1zM502 193h1v1h-1zM501 193h1v1h-1zM503 193h1v1h-1zM504 165h1v7h-1zM503 168h1v1h-1zM505 168h1v1h-1zM506 168h1v1h-1zM505 168h1v1h-1zM507 168h1v1h-1zM513 168h1v4h-1zM512 169h1v1h-1zM514 171h1v1h-1zM515 166h1v5h-1zM514 166h1v1h-1zM516 166h1v1h-1zM517 162h1v5h-1zM516 166h1v1h-1zM518 162h1v1h-1zM519 162h1v4h-1zM518 162h1v1h-1zM520 165h1v1h-1zM521 165h1v5h-1zM520 166h1v1h-1zM522 169h1v1h-1zM528 169h1v1h-1zM527 169h1v1h-1zM529 169h1v1h-1zM530 169h1v2h-1zM529 170h1v1h-1zM531 169h1v1h-1zM532 168h1v1h-1zM531 168h1v1h-1zM533 168h1v1h-1zM534 167h1v2h-1zM533 167h1v1h-1zM535 168h1v1h-1zM536 166h1v2h-1zM535 166h1v1h-1zM537 167h1v1h-1zM543 166h1v1h-1zM542 166h1v1h-1zM544 166h1v1h-1zM545 166h1v2h-1zM544 167h1v1h-1zM546 167h1v1h-1zM547 167h1v1h-1zM546 167h1v1h-1zM548 167h1v1h-1zM549 167h1v1h-1zM548 167h1v1h-1zM550 167h1v1h-1zM551 167h1v1h-1zM550 167h1v1h-1zM552 167h1v1h-1zM558 167h1v1h-1zM557 167h1v1h-1zM559 167h1v1h-1zM560 166h1v1h-1zM559 166h1v1h-1zM561 166h1v1h-1zM562 166h1v1h-1zM561 166h1v1h-1zM563 166h1v1h-1zM564 166h1v1h-1zM563 166h1v1h-1zM565 166h1v1h-1zM566 165h1v1h-1zM565 165h1v1h-1zM567 165h1v1h-1zM573 165h1v1h-1zM572 165h1v1h-1zM574 165h1v1h-1zM575 164h1v3h-1zM574 165h1v1h-1zM576 166h1v1h-1zM577 166h1v2h-1zM576 166h1v1h-1zM578 167h1v1h-1zM579 164h1v5h-1zM578 168h1v1h-1zM580 164h1v1h-1zM581 161h1v3h-1zM580 161h1v1h-1zM582 161h1v1h-1zM588 161h1v1h-1zM587 161h1v1h-1zM589 161h1v1h-1zM590 160h1v2h-1zM589 161h1v1h-1zM591 161h1v1h-1zM592 161h1v1h-1zM591 161h1v1h-1zM593 161h1v1h-1zM594 161h1v2h-1zM593 162h1v1h-1zM595 162h1v1h-1zM597 163h1v1h-1zM596 163h1v1h-1zM598 163h1v1h-1zM603 161h1v3h-1zM602 161h1v1h-1zM604 162h1v1h-1zM605 162h1v1h-1zM604 162h1v1h-1zM606 162h1v1h-1zM607 163h1v1h-1zM606 163h1v1h-1zM608 163h1v1h-1zM609 163h1v2h-1zM608 164h1v1h-1zM610 164h1v1h-1zM612 164h1v1h-1zM611 164h1v1h-1zM613 164h1v1h-1zM618 164h1v1h-1zM617 164h1v1h-1zM619 164h1v1h-1zM620 163h1v2h-1zM619 164h1v1h-1zM621 164h1v1h-1zM622 163h1v1h-1zM621 163h1v1h-1zM623 163h1v1h-1zM625 162h1v1h-1zM624 162h1v1h-1zM626 162h1v1h-1zM627 162h1v1h-1zM626 162h1v1h-1zM628 162h1v1h-1zM633 162h1v1h-1zM632 162h1v1h-1zM634 162h1v1h-1zM635 161h1v2h-1zM634 162h1v1h-1zM636 162h1v1h-1zM637 161h1v1h-1zM636 161h1v1h-1zM638 161h1v1h-1zM648 193h1v7h-1zM647 196h1v1h-1zM649 196h1v1h-1zM650 196h1v2h-1zM649 196h1v1h-1zM651 197h1v1h-1zM653 197h1v2h-1zM652 197h1v1h-1zM654 198h1v1h-1zM655 197h1v2h-1zM654 197h1v1h-1zM656 197h1v1h-1zM657 195h1v3h-1zM656 197h1v1h-1zM658 195h1v1h-1zM663 195h1v2h-1zM662 195h1v1h-1zM664 196h1v1h-1zM665 195h1v2h-1zM664 196h1v1h-1zM666 195h1v1h-1zM668 194h1v2h-1zM667 195h1v1h-1zM669 194h1v1h-1zM670 194h1v2h-1zM669 194h1v1h-1zM671 195h1v1h-1zM672 195h1v2h-1zM671 195h1v1h-1zM673 196h1v1h-1zM678 195h1v2h-1zM677 195h1v1h-1zM679 195h1v1h-1zM681 195h1v1h-1zM680 195h1v1h-1zM682 195h1v1h-1zM683 195h1v2h-1zM682 196h1v1h-1zM684 196h1v1h-1zM685 196h1v1h-1zM684 196h1v1h-1zM686 196h1v1h-1zM687 197h1v1h-1zM686 197h1v1h-1zM688 197h1v1h-1zM693 197h1v1h-1zM692 197h1v1h-1zM694 197h1v1h-1zM696 196h1v4h-1zM695 197h1v1h-1zM697 199h1v1h-1zM698 199h1v4h-1zM697 199h1v1h-1zM699 202h1v1h-1zM700 200h1v3h-1zM699 200h1v1h-1zM701 200h1v1h-1zM702 198h1v3h-1zM701 200h1v1h-1zM703 198h1v1h-1zM709 198h1v3h-1zM708 198h1v1h-1zM710 200h1v1h-1zM711 198h1v3h-1zM710 198h1v1h-1zM712 198h1v1h-1zM713 196h1v3h-1zM712 198h1v1h-1zM714 196h1v1h-1zM715 196h1v1h-1zM714 196h1v1h-1zM716 196h1v1h-1zM717 197h1v1h-1zM716 197h1v1h-1zM718 197h1v1h-1zM724 196h1v1h-1zM723 196h1v1h-1zM725 196h1v1h-1zM726 195h1v1h-1zM725 195h1v1h-1zM727 195h1v1h-1zM728 195h1v1h-1zM727 195h1v1h-1zM729 195h1v1h-1zM730 194h1v2h-1zM729 195h1v1h-1zM731 195h1v1h-1zM732 196h1v1h-1zM731 196h1v1h-1zM733 196h1v1h-1zM739 195h1v2h-1zM738 195h1v1h-1zM740 195h1v1h-1zM741 195h1v1h-1zM740 195h1v1h-1zM742 195h1v1h-1zM743 195h1v1h-1zM742 195h1v1h-1zM744 195h1v1h-1zM745 196h1v1h-1zM744 196h1v1h-1zM746 196h1v1h-1zM747 195h1v2h-1zM746 196h1v1h-1zM748 196h1v1h-1zM754 195h1v2h-1zM753 196h1v1h-1zM755 196h1v1h-1zM756 196h1v1h-1zM755 196h1v1h-1zM757 196h1v1h-1zM758 196h1v2h-1zM757 197h1v1h-1zM759 197h1v1h-1zM760 197h1v2h-1zM759 197h1v1h-1zM761 198h1v1h-1zM762 198h1v1h-1zM761 198h1v1h-1zM763 198h1v1h-1zM769 198h1v1h-1zM768 198h1v1h-1zM770 198h1v1h-1zM771 198h1v1h-1zM770 198h1v1h-1zM772 198h1v1h-1zM773 198h1v1h-1zM772 198h1v1h-1zM774 198h1v1h-1zM775 198h1v2h-1zM774 199h1v1h-1zM776 199h1v1h-1zM777 184h1v7h-1zM776 187h1v1h-1zM778 188h1v1h-1zM784 187h1v2h-1zM783 188h1v1h-1zM785 188h1v1h-1zM786 188h1v1h-1zM785 188h1v1h-1zM787 188h1v1h-1zM788 187h1v1h-1zM787 187h1v1h-1zM789 187h1v1h-1zM790 187h1v2h-1zM789 187h1v1h-1zM791 188h1v1h-1zM792 189h1v2h-1zM791 189h1v1h-1zM793 190h1v1h-1zM799 190h1v1h-1zM798 190h1v1h-1zM800 190h1v1h-1zM801 190h1v1h-1zM800 190h1v1h-1zM802 190h1v1h-1zM803 190h1v1h-1zM802 190h1v1h-1zM804 190h1v1h-1zM805 189h1v1h-1zM804 189h1v1h-1zM806 189h1v1h-1zM808 189h1v1h-1zM807 189h1v1h-1zM809 189h1v1h-1zM814 189h1v1h-1zM813 189h1v1h-1zM815 189h1v1h-1zM816 188h1v2h-1zM815 189h1v1h-1zM817 189h1v1h-1zM818 188h1v1h-1zM817 188h1v1h-1zM819 188h1v1h-1zM820 188h1v3h-1zM819 188h1v1h-1zM821 190h1v1h-1zM823 190h1v2h-1zM822 190h1v1h-1zM824 191h1v1h-1zM829 191h1v2h-1zM828 192h1v1h-1zM830 192h1v1h-1zM831 191h1v2h-1zM830 192h1v1h-1zM832 191h1v1h-1zM833 190h1v9h-1zM832 191h1v1h-1zM834 192h1v1h-1zM836 188h1v11h-1zM835 192h1v1h-1zM837 196h1v1h-1zM838 191h1v16h-1zM837 196h1v1h-1zM839 204h1v1h-1z"/>
<path fill="#0000e6" d="M60 152h1v2h-1zM59 153h1v1h-1zM61 153h1v1h-1zM63 153h1v1h-1zM62 153h1v1h-1zM64 153h1v1h-1zM65 153h1v1h-1zM64 153h1v1h-1zM66 153h1v1h-1zM67 152h1v2h-1zM66 153h1v1h-1zM68 153h1v1h-1zM69 153h1v1h-1zM68 153h1v1h-1zM70 153h1v1h-1zM76 153h1v1h-1zM75 153h1v1h-1zM77 153h1v1h-1zM78 153h1v1h-1zM77 153h1v1h-1zM79 153h1v1h-1zM80 152h1v2h-1zM79 153h1v1h-1zM81 153h1v1h-1zM82 153h1v1h-1zM81 153h1v1h-1zM83 153h1v1h-1zM84 154h1v1h-1zM83 154h1v1h-1zM85 154h1v1h-1zM91 152h1v3h-1zM90 154h1v1h-1zM92 153h1v1h-1zM93 153h1v1h-1zM92 153h1v1h-1zM94 153h1v1h-1zM95 153h1v1h-1zM94 153h1v1h-1zM96 153h1v1h-1zM97 152h1v2h-1zM96 152h1v1h-1zM98 153h1v1h-1zM99 152h1v1h-1zM98 152h1v1h-1zM100 152h1v1h-1zM106 152h1v2h-1zM105 153h1v1h-1zM107 153h1v1h-1zM108 152h1v2h-1zM107 153h1v1h-1zM109 153h1v1h-1zM110 153h1v1h-1zM109 153h1v1h-1zM111 153h1v1h-1zM112 153h1v2h-1zM111 154h1v1h-1zM113 154h1v1h-1zM114 154h1v1h-1zM113 154h1v1h-1zM115 154h1v1h-1zM121 154h1v1h-1zM120 154h1v1h-1zM122 154h1v1h-1zM123 154h1v1h-1zM122 154h1v1h-1zM124 154h1v1h-1zM125 154h1v1h-1zM124 154h1v1h-1zM126 154h1v1h-1zM127 153h1v2h-1zM126 154h1v1h-1zM128 154h1v1h-1zM129 154h1v1h-1zM128 154h1v1h-1zM130 154h1v1h-1zM136 154h1v1h-1zM135 154h1v1h-1zM137 154h1v1h-1zM138 154h1v1h-1zM137 154h1v1h-1zM139 154h1v1h-1zM140 154h1v2h-1zM139 155h1v1h-1zM141 155h1v1h-1zM142 154h1v1h-1zM141 154h1v1h-1zM143 154h1v1h-1zM144 154h1v2h-1zM143 155h1v1h-1zM145 155h1v1h-1zM151 155h1v1h-1zM150 155h1v1h-1zM152 155h1v1h-1zM153 154h1v1h-1zM152 154h1v1h-1zM154 154h1v1h-1zM155 154h1v1h-1zM154 154h1v1h-1zM156 154h1v1h-1zM157 153h1v1h-1zM156 153h1v1h-1zM158 153h1v1h-1zM160 153h1v2h-1zM159 154h1v1h-1zM161 153h1v1h-1zM166 153h1v1h-1zM165 153h1v1h-1zM167 153h1v1h-1zM168 153h1v2h-1zM167 154h1v1h-1zM169 154h1v1h-1zM170 153h1v1h-1zM169 153h1v1h-1zM171 153h1v1h-1zM172 153h1v1h-1zM171 153h1v1h-1zM173 153h1v1h-1zM175 153h1v1h-1zM174 153h1v1h-1zM176 153h1v1h-1zM181 153h1v1h-1zM180 153h1v1h-1zM182 153h1v1h-1zM183 152h1v1h-1zM182 152h1v1h-1zM184 152h1v1h-1zM185 152h1v2h-1zM184 153h1v1h-1zM186 153h1v1h-1zM188 152h1v2h-1zM187 153h1v1h-1zM189 153h1v1h-1zM190 152h1v1h-1zM189 152h1v1h-1zM191 152h1v1h-1zM196 152h1v1h-1zM195 152h1v1h-1zM197 152h1v1h-1zM198 152h1v1h-1zM197 152h1v1h-1zM199 152h1v1h-1zM200 151h1v1h-1zM199 151h1v1h-1zM201 151h1v1h-1zM203 150h1v2h-1zM202 151h1v1h-1zM204 151h1v1h-1zM205 149h1v3h-1zM204 151h1v1h-1zM206 149h1v1h-1zM211 149h1v2h-1zM210 149h1v1h-1zM212 150h1v1h-1zM213 149h1v3h-1zM212 150h1v1h-1zM214 151h1v1h-1zM216 150h1v2h-1zM215 151h1v1h-1zM217 151h1v1h-1zM218 151h1v2h-1zM217 151h1v1h-1zM219 152h1v1h-1zM220 152h1v2h-1zM219 153h1v1h-1zM221 153h1v1h-1zM226 152h1v1h-1zM225 152h1v1h-1zM227 152h1v1h-1zM228 152h1v2h-1zM227 153h1v1h-1zM229 153h1v1h-1zM231 152h1v1h-1zM230 152h1v1h-1zM232 152h1v1h-1zM233 151h1v1h-1zM232 151h1v1h-1zM234 151h1v1h-1zM235 151h1v2h-1zM234 152h1v1h-1zM236 152h1v1h-1zM241 151h1v2h-1zM240 152h1v1h-1zM242 152h1v1h-1zM243 150h1v2h-1zM242 150h1v1h-1zM244 150h1v1h-1zM246 149h1v2h-1zM245 150h1v1h-1zM247 149h1v1h-1zM248 148h1v2h-1zM247 149h1v1h-1zM249 149h1v1h-1zM250 149h1v2h-1zM249 150h1v1h-1zM251 150h1v1h-1zM256 149h1v2h-1zM255 149h1v1h-1zM257 150h1v1h-1zM259 148h1v2h-1zM258 149h1v1h-1zM260 149h1v1h-1zM261 147h1v2h-1zM260 147h1v1h-1zM262 148h1v1h-1zM263 147h1v2h-1zM262 148h1v1h-1zM264 148h1v1h-1zM265 147h1v1h-1zM264 147h1v1h-1zM266 147h1v1h-1zM271 147h1v1h-1zM270 147h1v1h-1zM272 147h1v1h-1zM274 147h1v1h-1zM273 147h1v1h-1zM275 147h1v1h-1zM276 147h1v1h-1zM275 147h1v1h-1zM277 147h1v1h-1zM278 146h1v3h-1zM277 147h1v1h-1zM279 148h1v1h-1zM280 148h1v1h-1zM279 148h1v1h-1zM281 148h1v1h-1zM287 147h1v2h-1zM286 148h1v1h-1zM288 148h1v1h-1zM289 146h1v3h-1zM288 148h1v1h-1zM290 147h1v1h-1zM291 145h1v3h-1zM290 147h1v1h-1zM292 146h1v1h-1zM293 145h1v1h-1zM292 145h1v1h-1zM294 145h1v1h-1zM295 144h1v2h-1zM294 144h1v1h-1zM296 145h1v1h-1zM302 143h1v2h-1zM301 143h1v1h-1zM303 143h1v1h-1zM304 141h1v2h-1zM303 141h1v1h-1zM305 142h1v1h-1zM306 140h1v2h-1zM305 141h1v1h-1zM307 141h1v1h-1zM308 140h1v3h-1zM307 141h1v1h-1zM309 142h1v1h-1zM310 142h1v3h-1zM309 142h1v1h-1zM311 144h1v1h-1zM317 143h1v2h-1zM316 143h1v1h-1zM318 144h1v1h-1zM319 144h1v1h-1zM318 144h1v1h-1zM320 144h1v1h-1zM321 144h1v2h-1zM320 145h1v1h-1zM322 145h1v1h-1zM323 145h1v1h-1zM322 145h1v1h-1zM324 145h1v1h-1zM325 145h1v2h-1zM324 145h1v1h-1zM326 146h1v1h-1zM332 145h1v1h-1zM331 145h1v1h-1zM333 145h1v1h-1zM334 144h1v2h-1zM333 145h1v1h-1zM335 145h1v1h-1zM336 145h1v2h-1zM335 146h1v1h-1zM337 146h1v1h-1zM338 146h1v2h-1zM337 147h1v1h-1zM339 147h1v1h-1zM340 146h1v1h-1zM339 146h1v1h-1zM341 146h1v1h-1zM347 147h1v3h-1zM346 147h1v1h-1zM348 149h1v1h-1zM349 149h1v1h-1zM348 149h1v1h-1zM350 149h1v1h-1zM351 149h1v1h-1zM350 149h1v1h-1zM352 149h1v1h-1zM353 149h1v2h-1zM352 149h1v1h-1zM354 150h1v1h-1zM355 149h1v2h-1zM354 150h1v1h-1zM356 150h1v1h-1zM362 148h1v2h-1zM361 148h1v1h-1zM363 149h1v1h-1zM364 148h1v2h-1zM363 149h1v1h-1zM365 149h1v1h-1zM366 148h1v1h-1zM365 148h1v1h-1zM367 148h1v1h-1zM368 148h1v3h-1zM367 148h1v1h-1zM369 150h1v1h-1zM371 149h1v2h-1zM370 150h1v1h-1zM372 150h1v1h-1zM377 150h1v1h-1zM376 150h1v1h-1zM378 150h1v1h-1zM379 151h1v1h-1zM378 151h1v1h-1zM380 151h1v1h-1zM381 150h1v2h-1zM380 151h1v1h-1zM382 151h1v1h-1zM383 149h1v4h-1zM382 152h1v1h-1zM384 150h1v1h-1zM386 146h1v4h-1zM385 146h1v1h-1zM387 147h1v1h-1zM392 145h1v2h-1zM391 145h1v1h-1zM393 145h1v1h-1zM394 145h1v2h-1zM393 145h1v1h-1zM395 146h1v1h-1zM396 146h1v1h-1zM395 146h1v1h-1zM397 146h1v1h-1zM398 145h1v3h-1zM397 147h1v1h-1zM399 145h1v1h-1zM401 144h1v3h-1zM400 146h1v1h-1zM402 145h1v1h-1zM407 144h1v1h-1zM406 144h1v1h-1zM408 144h1v1h-1zM409 143h1v2h-1zM408 143h1v1h-1zM410 143h1v1h-1zM411 142h1v2h-1zM410 143h1v1h-1zM412 143h1v1h-1zM414 141h1v2h-1zM413 141h1v1h-1zM415 142h1v1h-1zM416 140h1v2h-1zM415 140h1v1h-1zM417 141h1v1h-1zM422 140h1v2h-1zM421 141h1v1h-1zM423 141h1v1h-1zM424 141h1v2h-1zM423 142h1v1h-1zM425 142h1v1h-1zM426 142h1v1h-1zM425 142h1v1h-1zM427 142h1v1h-1zM429 141h1v2h-1zM428 141h1v1h-1zM430 142h1v1h-1zM431 140h1v2h-1zM430 140h1v1h-1zM432 141h1v1h-1zM437 140h1v3h-1zM436 140h1v1h-1zM438 142h1v1h-1zM439 141h1v2h-1zM438 141h1v1h-1zM440 142h1v1h-1zM442 140h1v2h-1zM441 141h1v1h-1zM443 141h1v1h-1zM444 141h1v1h-1zM443 141h1v1h-1zM445 141h1v1h-1zM446 141h1v3h-1zM445 142h1v1h-1zM447 143h1v1h-1zM452 143h1v4h-1zM451 144h1v1h-1zM453 146h1v1h-1zM454 145h1v2h-1zM453 146h1v1h-1zM455 145h1v1h-1zM457 145h1v1h-1zM456 145h1v1h-1zM458 145h1v1h-1zM459 145h1v1h-1zM458 145h1v1h-1zM460 145h1v1h-1zM461 144h1v2h-1zM460 144h1v1h-1zM462 145h1v1h-1zM467 144h1v2h-1zM466 145h1v1h-1zM468 144h1v1h-1zM470 143h1v2h-1zM469 143h1v1h-1zM471 143h1v1h-1zM472 142h1v2h-1zM471 143h1v1h-1zM473 143h1v1h-1zM474 141h1v2h-1zM473 141h1v1h-1zM475 142h1v1h-1zM476 140h1v2h-1zM475 141h1v1h-1zM477 141h1v1h-1zM482 140h1v1h-1zM481 140h1v1h-1zM483 140h1v1h-1zM485 140h1v1h-1zM484 140h1v1h-1zM486 140h1v1h-1zM487 139h1v3h-1zM486 140h1v1h-1zM488 141h1v1h-1zM489 140h1v2h-1zM488 141h1v1h-1zM490 141h1v1h-1zM491 141h1v2h-1zM490 141h1v1h-1zM492 142h1v1h-1zM498 141h1v1h-1zM497 141h1v1h-1zM499 141h1v1h-1zM500 140h1v1h-1zM499 140h1v1h-1zM501 140h1v1h-1zM502 140h1v2h-1zM501 141h1v1h-1zM503 141h1v1h-1zM504 140h1v2h-1zM503 141h1v1h-1zM505 140h1v1h-1zM506 140h1v1h-1zM505 140h1v1h-1zM507 140h1v1h-1zM513 140h1v1h-1zM512 140h1v1h-1zM514 140h1v1h-1zM515 139h1v1h-1zM514 139h1v1h-1zM516 139h1v1h-1zM517 139h1v1h-1zM516 139h1v1h-1zM518 139h1v1h-1zM519 138h1v1h-1zM518 138h1v1h-1zM520 138h1v1h-1zM521 137h1v2h-1zM520 137h1v1h-1zM522 138h1v1h-1zM528 136h1v2h-1zM527 137h1v1h-1zM529 137h1v1h-1zM530 137h1v1h-1zM529 137h1v1h-1zM531 137h1v1h-1zM532 137h1v2h-1zM531 138h1v1h-1zM533 138h1v1h-1zM534 138h1v2h-1zM533 138h1v1h-1zM535 139h1v1h-1zM536 139h1v2h-1zM535 139h1v1h-1zM537 140h1v1h-1zM543 139h1v1h-1zM542 139h1v1h-1zM544 139h1v1h-1zM545 138h1v2h-1zM544 138h1v1h-1zM546 139h1v1h-1zM547 138h1v1h-1zM546 138h1v1h-1zM548 138h1v1h-1zM549 137h1v2h-1zM548 138h1v1h-1zM550 138h1v1h-1zM551 137h1v1h-1zM550 137h1v1h-1zM552 137h1v1h-1zM558 136h1v2h-1zM557 137h1v1h-1zM559 137h1v1h-1zM560 136h1v3h-1zM559 137h1v1h-1zM561 138h1v1h-1zM562 137h1v2h-1zM561 138h1v1h-1zM563 138h1v1h-1zM564 137h1v2h-1zM563 138h1v1h-1zM565 137h1v1h-1zM566 136h1v2h-1zM565 137h1v1h-1zM567 136h1v1h-1zM573 136h1v2h-1zM572 136h1v1h-1zM574 137h1v1h-1zM575 136h1v1h-1zM574 136h1v1h-1zM576 136h1v1h-1zM577 136h1v2h-1zM576 137h1v1h-1zM578 137h1v1h-1zM579 134h1v3h-1zM578 134h1v1h-1zM580 135h1v1h-1zM581 132h1v3h-1zM580 132h1v1h-1zM582 132h1v1h-1zM588 130h1v3h-1zM587 132h1v1h-1zM589 131h1v1h-1zM590 130h1v2h-1zM589 131h1v1h-1zM591 131h1v1h-1zM592 130h1v1h-1zM591 130h1v1h-1zM593 130h1v1h-1zM594 130h1v1h-1zM593 130h1v1h-1zM595 130h1v1h-1zM597 130h1v2h-1zM596 131h1v1h-1zM598 131h1v1h-1zM603 130h1v2h-1zM602 131h1v1h-1zM604 131h1v1h-1zM605 130h1v2h-1zM604 131h1v1h-1zM606 131h1v1h-1zM607 131h1v9h-1zM606 131h1v1h-1zM608 139h1v1h-1zM609 139h1v1h-1zM608 139h1v1h-1zM610 139h1v1h-1zM612 139h1v2h-1zM611 140h1v1h-1zM613 140h1v1h-1zM618 140h1v1h-1zM617 140h1v1h-1zM619 140h1v1h-1zM620 140h1v2h-1zM619 141h1v1h-1zM621 141h1v1h-1zM622 140h1v2h-1zM621 141h1v1h-1zM623 141h1v1h-1zM625 140h1v1h-1zM624 140h1v1h-1zM626 140h1v1h-1zM627 139h1v2h-1zM626 140h1v1h-1zM628 140h1v1h-1zM633 139h1v1h-1zM632 139h1v1h-1zM634 139h1v1h-1zM635 139h1v1h-1zM634 139h1v1h-1zM636 139h1v1h-1zM637 138h1v2h-1zM636 139h1v1h-1zM638 139h1v1h-1zM640 138h1v2h-1zM639 139h1v1h-1zM641 139h1v1h-1zM642 138h1v2h-1zM641 139h1v1h-1zM643 139h1v1h-1zM648 137h1v3h-1zM647 137h1v1h-1zM649 138h1v1h-1zM650 137h1v2h-1zM649 138h1v1h-1zM651 137h1v1h-1zM653 135h1v3h-1zM652 137h1v1h-1zM654 136h1v1h-1zM655 135h1v2h-1zM654 136h1v1h-1zM656 135h1v1h-1zM657 133h1v3h-1zM656 135h1v1h-1zM658 134h1v1h-1zM663 133h1v1h-1zM662 133h1v1h-1zM664 133h1v1h-1zM665 133h1v1h-1zM664 133h1v1h-1zM666 133h1v1h-1zM668 133h1v2h-1zM667 134h1v1h-1zM669 133h1v1h-1zM670 132h1v2h-1zM669 132h1v1h-1zM671 133h1v1h-1zM672 133h1v1h-1zM671 133h1v1h-1zM673 133h1v1h-1zM678 133h1v1h-1zM677 133h1v1h-1zM679 133h1v1h-1zM681 132h1v2h-1zM680 133h1v1h-1zM682 133h1v1h-1zM683 132h1v2h-1zM682 133h1v1h-1zM684 132h1v1h-1zM685 131h1v2h-1zM684 132h1v1h-1zM686 132h1v1h-1zM687 131h1v2h-1zM686 132h1v1h-1zM688 132h1v1h-1zM693 130h1v3h-1zM692 132h1v1h-1zM694 130h1v1h-1zM696 128h1v2h-1zM695 128h1v1h-1zM697 129h1v1h-1zM698 127h1v3h-1zM697 129h1v1h-1zM699 128h1v1h-1zM700 127h1v3h-1zM699 127h1v1h-1zM701 129h1v1h-1zM702 128h1v2h-1zM701 129h1v1h-1zM703 129h1v1h-1zM709 129h1v2h-1zM708 130h1v1h-1zM710 129h1v1h-1zM711 128h1v2h-1zM710 129h1v1h-1zM712 128h1v1h-1zM713 127h1v2h-1zM712 128h1v1h-1zM714 127h1v1h-1zM715 126h1v2h-1zM714 127h1v1h-1zM716 126h1v1h-1zM717 125h1v2h-1zM716 126h1v1h-1zM718 126h1v1h-1zM724 125h1v2h-1zM723 126h1v1h-1zM725 126h1v1h-1zM726 126h1v1h-1zM725 126h1v1h-1zM727 126h1v1h-1zM728 125h1v2h-1zM727 126h1v1h-1zM729 125h1v1h-1zM730 124h1v3h-1zM729 125h1v1h-1zM731 126h1v1h-1zM732 126h1v2h-1zM731 127h1v1h-1zM733 127h1v1h-1zM739 126h1v2h-1zM738 126h1v1h-1zM740 126h1v1h-1zM741 126h1v1h-1zM740 126h1v1h-1zM742 126h1v1h-1zM743 126h1v2h-1zM742 127h1v1h-1zM744 127h1v1h-1zM745 127h1v2h-1zM744 128h1v1h-1zM746 127h1v1h-1zM747 126h1v1h-1zM746 126h1v1h-1zM748 126h1v1h-1zM754 125h1v1h-1zM753 125h1v1h-1zM755 125h1v1h-1zM756 124h1v2h-1zM755 124h1v1h-1zM757 125h1v1h-1zM758 124h1v2h-1zM757 124h1v1h-1zM759 124h1v1h-1zM760 124h1v2h-1zM759 124h1v1h-1zM761 125h1v1h-1zM762 125h1v1h-1zM761 125h1v1h-1zM763 125h1v1h-1zM769 124h1v2h-1zM768 125h1v1h-1zM770 125h1v1h-1zM771 124h1v1h-1zM770 124h1v1h-1zM772 124h1v1h-1zM773 124h1v2h-1zM772 125h1v1h-1zM774 125h1v1h-1zM775 124h1v2h-1zM774 125h1v1h-1zM776 125h1v1h-1zM777 124h1v2h-1zM776 125h1v1h-1zM778 125h1v1h-1zM784 125h1v1h-1zM783 125h1v1h-1zM785 125h1v1h-1zM786 126h1v1h-1zM785 126h1v1h-1zM787 126h1v1h-1zM788 126h1v2h-1zM787 127h1v1h-1zM789 127h1v1h-1zM790 127h1v2h-1zM789 128h1v1h-1zM791 128h1v1h-1zM792 128h1v1h-1zM791 128h1v1h-1zM793 128h1v1h-1zM799 128h1v1h-1zM798 128h1v1h-1zM800 128h1v1h-1zM801 127h1v2h-1zM800 127h1v1h-1zM802 128h1v1h-1zM803 128h1v1h-1zM802 128h1v1h-1zM804 128h1v1h-1zM805 128h1v1h-1zM804 128h1v1h-1zM806 128h1v1h-1zM808 128h1v1h-1zM807 128h1v1h-1zM809 128h1v1h-1zM814 125h1v4h-1zM813 125h1v1h-1zM815 125h1v1h-1zM816 125h1v2h-1zM815 125h1v1h-1zM817 126h1v1h-1zM818 125h1v3h-1zM817 126h1v1h-1zM819 127h1v1h-1zM820 126h1v2h-1zM819 127h1v1h-1zM821 127h1v1h-1zM823 127h1v2h-1zM822 127h1v1h-1zM824 128h1v1h-1zM829 128h1v1h-1zM828 128h1v1h-1zM830 128h1v1h-1zM831 128h1v2h-1zM830 128h1v1h-1zM832 129h1v1h-1zM833 128h1v2h-1zM832 129h1v1h-1zM834 129h1v1h-1zM836 129h1v1h-1zM835 129h1v1h-1zM837 129h1v1h-1zM838 129h1v1h-1zM837 129h1v1h-1zM839 129h1v1h-1z"/>
<path fill="#00009c" d="M60 118h1v2h-1zM59 119h1v1h-1zM61 119h1v1h-1zM63 118h1v2h-1zM62 118h1v1h-1zM64 119h1v1h-1zM65 118h1v2h-1zM64 119h1v1h-1zM66 119h1v1h-1zM67 118h1v2h-1zM66 119h1v1h-1zM68 119h1v1h-1zM69 117h1v3h-1zM68 119h1v1h-1zM70 118h1v1h-1zM76 117h1v2h-1zM75 118h1v1h-1zM77 118h1v1h-1zM78 118h1v3h-1zM77 118h1v1h-1zM79 120h1v1h-1zM80 118h1v4h-1zM79 119h1v1h-1zM81 121h1v1h-1zM82 120h1v1h-1zM81 120h1v1h-1zM83 120h1v1h-1zM84 119h1v4h-1zM83 121h1v1h-1zM85 121h1v1h-1zM91 119h1v2h-1zM90 120h1v1h-1zM92 120h1v1h-1zM93 119h1v2h-1zM92 119h1v1h-1zM94 120h1v1h-1zM95 119h1v2h-1zM94 119h1v1h-1zM96 119h1v1h-1zM97 118h1v2h-1zM96 119h1v1h-1zM98 119h1v1h-1zM99 119h1v1h-1zM98 119h1v1h-1zM100 119h1v1h-1zM106 118h1v2h-1zM105 119h1v1h-1zM107 119h1v1h-1zM108 118h1v3h-1zM107 119h1v1h-1zM109 120h1v1h-1zM110 119h1v1h-1zM109 119h1v1h-1zM111 119h1v1h-1zM112 119h1v2h-1zM111 120h1v1h-1zM113 120h1v1h-1zM114 119h1v3h-1zM113 120h1v1h-1zM115 121h1v1h-1zM121 120h1v2h-1zM120 121h1v1h-1zM122 121h1v1h-1zM123 120h1v2h-1zM122 121h1v1h-1zM124 121h1v1h-1zM125 122h1v1h-1zM124 122h1v1h-1zM126 122h1v1h-1zM127 122h1v2h-1zM126 122h1v1h-1zM128 123h1v1h-1zM129 122h1v2h-1zM128 123h1v1h-1zM130 123h1v1h-1zM136 123h1v1h-1zM135 123h1v1h-1zM137 123h1v1h-1zM138 122h1v2h-1zM137 122h1v1h-1zM139 122h1v1h-1zM140 121h1v3h-1zM139 123h1v1h-1zM141 122h1v1h-1zM142 120h1v3h-1zM141 122h1v1h-1zM143 122h1v1h-1zM144 120h1v1h-1zM143 120h1v1h-1zM145 120h1v1h-1zM151 119h1v3h-1zM150 121h1v1h-1zM152 119h1v1h-1zM153 118h1v2h-1zM152 119h1v1h-1zM154 118h1v1h-1zM155 117h1v3h-1zM154 119h1v1h-1zM156 117h1v1h-1zM157 117h1v1h-1zM156 117h1v1h-1zM158 117h1v1h-1zM160 115h1v2h-1zM159 115h1v1h-1zM161 116h1v1h-1zM166 114h1v3h-1zM165 116h1v1h-1zM167 115h1v1h-1zM168 114h1v3h-1zM167 115h1v1h-1zM169 114h1v1h-1zM170 114h1v1h-1zM169 114h1v1h-1zM171 114h1v1h-1zM172 113h1v3h-1zM171 115h1v1h-1zM173 114h1v1h-1zM175 112h1v3h-1zM174 114h1v1h-1zM176 113h1v1h-1zM181 112h1v2h-1zM180 113h1v1h-1zM182 113h1v1h-1zM183 114h1v1h-1zM182 114h1v1h-1zM184 114h1v1h-1zM185 113h1v2h-1zM184 114h1v1h-1zM186 114h1v1h-1zM188 114h1v2h-1zM187 114h1v1h-1zM189 115h1v1h-1zM190 114h1v2h-1zM189 115h1v1h-1zM191 115h1v1h-1zM196 115h1v1h-1zM195 115h1v1h-1zM197 115h1v1h-1zM198 113h1v3h-1zM197 115h1v1h-1zM199 115h1v1h-1zM200 113h1v2h-1zM199 114h1v1h-1zM201 114h1v1h-1zM203 113h1v2h-1zM202 114h1v1h-1zM204 114h1v1h-1zM205 114h1v1h-1zM204 114h1v1h-1zM206 114h1v1h-1zM211 113h1v3h-1zM210 114h1v1h-1zM212 115h1v1h-1zM213 114h1v2h-1zM212 114h1v1h-1zM214 115h1v1h-1zM216 114h1v1h-1zM215 114h1v1h-1zM217 114h1v1h-1zM218 114h1v2h-1zM217 115h1v1h-1zM219 115h1v1h-1zM220 115h1v1h-1zM219 115h1v1h-1zM221 115h1v1h-1zM226 114h1v2h-1zM225 114h1v1h-1zM227 115h1v1h-1zM228 113h1v3h-1zM227 114h1v1h-1zM229 115h1v1h-1zM231 113h1v2h-1zM230 113h1v1h-1zM232 114h1v1h-1zM233 113h1v1h-1zM232 113h1v1h-1zM234 113h1v1h-1zM235 113h1v2h-1zM234 114h1v1h-1zM236 113h1v1h-1zM241 111h1v3h-1zM240 111h1v1h-1zM242 112h1v1h-1zM243 111h1v1h-1zM242 111h1v1h-1zM244 111h1v1h-1zM246 111h1v2h-1zM245 112h1v1h-1zM247 111h1v1h-1zM248 110h1v2h-1zM247 111h1v1h-1zM249 110h1v1h-1zM250 109h1v3h-1zM249 111h1v1h-1zM251 109h1v1h-1zM256 109h1v1h-1zM255 109h1v1h-1zM257 109h1v1h-1zM259 109h1v1h-1zM258 109h1v1h-1zM260 109h1v1h-1zM261 108h1v1h-1zM260 108h1v1h-1zM262 108h1v1h-1zM263 107h1v3h-1zM262 109h1v1h-1zM264 109h1v1h-1zM265 107h1v3h-1zM264 109h1v1h-1zM266 108h1v1h-1zM271 107h1v2h-1zM270 107h1v1h-1zM272 108h1v1h-1zM274 106h1v3h-1zM273 107h1v1h-1zM275 108h1v1h-1zM276 107h1v3h-1zM275 109h1v1h-1zM277 108h1v1h-1zM278 107h1v3h-1zM277 109h1v1h-1zM279 108h1v1h-1zM280 108h1v2h-1zM279 109h1v1h-1zM281 109h1v1h-1zM287 108h1v3h-1zM286 110h1v1h-1zM288 109h1v1h-1zM289 107h1v4h-1zM288 110h1v1h-1zM290 107h1v1h-1zM291 105h1v4h-1zM290 108h1v1h-1zM292 106h1v1h-1zM293 105h1v1h-1zM292 105h1v1h-1zM294 105h1v1h-1zM295 102h1v4h-1zM294 105h1v1h-1zM296 103h1v1h-1zM302 101h1v3h-1zM301 103h1v1h-1zM303 102h1v1h-1zM304 102h1v2h-1zM303 103h1v1h-1zM305 103h1v1h-1zM306 102h1v2h-1zM305 103h1v1h-1zM307 103h1v1h-1zM308 103h1v2h-1zM307 104h1v1h-1zM309 104h1v1h-1zM310 103h1v3h-1zM309 104h1v1h-1zM311 105h1v1h-1zM317 104h1v2h-1zM316 105h1v1h-1zM318 104h1v1h-1zM319 103h1v4h-1zM318 104h1v1h-1zM320 106h1v1h-1zM321 105h1v3h-1zM320 105h1v1h-1zM322 107h1v1h-1zM323 106h1v3h-1zM322 107h1v1h-1zM324 108h1v1h-1zM325 107h1v4h-1zM324 108h1v1h-1zM326 110h1v1h-1zM332 109h1v2h-1zM331 109h1v1h-1zM333 110h1v1h-1zM334 109h1v2h-1zM333 110h1v1h-1zM335 110h1v1h-1zM336 108h1v4h-1zM335 110h1v1h-1zM337 109h1v1h-1zM338 108h1v2h-1zM337 108h1v1h-1zM339 109h1v1h-1zM340 107h1v2h-1zM339 108h1v1h-1zM341 108h1v1h-1zM347 107h1v1h-1zM346 107h1v1h-1zM348 107h1v1h-1zM349 107h1v2h-1zM348 108h1v1h-1zM350 108h1v1h-1zM351 108h1v1h-1zM350 108h1v1h-1zM352 108h1v1h-1zM353 107h1v3h-1zM352 109h1v1h-1zM354 109h1v1h-1zM355 109h1v1h-1zM354 109h1v1h-1zM356 109h1v1h-1zM362 107h1v4h-1zM361 110h1v1h-1zM363 108h1v1h-1zM364 106h1v2h-1zM363 107h1v1h-1zM365 107h1v1h-1zM366 105h1v3h-1zM365 107h1v1h-1zM367 106h1v1h-1zM368 105h1v2h-1zM367 106h1v1h-1zM369 105h1v1h-1zM371 103h1v3h-1zM370 103h1v1h-1zM372 104h1v1h-1zM377 104h1v1h-1zM376 104h1v1h-1zM378 104h1v1h-1zM379 104h1v3h-1zM378 105h1v1h-1zM380 106h1v1h-1zM381 106h1v3h-1zM380 106h1v1h-1zM382 108h1v1h-1zM383 105h1v4h-1zM382 108h1v1h-1zM384 106h1v1h-1zM386 103h1v3h-1zM385 103h1v1h-1zM387 104h1v1h-1zM392 102h1v3h-1zM391 104h1v1h-1zM393 103h1v1h-1zM394 102h1v2h-1zM393 103h1v1h-1zM395 103h1v1h-1zM396 102h1v1h-1zM395 102h1v1h-1zM397 102h1v1h-1zM398 101h1v2h-1zM397 102h1v1h-1zM399 101h1v1h-1zM401 100h1v3h-1zM400 101h1v1h-1zM402 101h1v1h-1zM407 100h1v1h-1zM406 100h1v1h-1zM408 100h1v1h-1zM409 99h1v3h-1zM408 101h1v1h-1zM410 100h1v1h-1zM411 98h1v2h-1zM410 98h1v1h-1zM412 99h1v1h-1zM414 97h1v3h-1zM413 99h1v1h-1zM415 98h1v1h-1zM416 96h1v4h-1zM415 99h1v1h-1zM417 97h1v1h-1zM422 97h1v2h-1zM421 97h1v1h-1zM423 98h1v1h-1zM424 97h1v3h-1zM423 98h1v1h-1zM425 99h1v1h-1zM426 99h1v2h-1zM425 100h1v1h-1zM427 100h1v1h-1zM429 98h1v2h-1zM428 98h1v1h-1zM430 99h1v1h-1zM431 97h1v2h-1zM430 98h1v1h-1zM432 98h1v1h-1zM437 96h1v3h-1zM436 98h1v1h-1zM438 98h1v1h-1zM439 97h1v3h-1zM438 99h1v1h-1zM440 98h1v1h-1zM442 97h1v3h-1zM441 99h1v1h-1zM443 98h1v1h-1zM444 97h1v5h-1zM443 98h1v1h-1zM445 101h1v1h-1zM446 100h1v5h-1zM445 101h1v1h-1zM447 104h1v1h-1zM452 103h1v4h-1zM451 105h1v1h-1zM453 106h1v1h-1zM454 105h1v2h-1zM453 106h1v1h-1zM455 106h1v1h-1zM457 104h1v3h-1zM456 106h1v1h-1zM458 105h1v1h-1zM459 103h1v3h-1zM458 105h1v1h-1zM460 104h1v1h-1zM461 103h1v2h-1zM460 104h1v1h-1zM462 104h1v1h-1zM467 100h1v5h-1zM466 104h1v1h-1zM468 102h1v1h-1zM470 100h1v2h-1zM469 100h1v1h-1zM471 101h1v1h-1zM472 99h1v3h-1zM471 101h1v1h-1zM473 100h1v1h-1zM474 98h1v3h-1zM473 100h1v1h-1zM475 99h1v1h-1zM476 98h1v2h-1zM475 99h1v1h-1zM477 99h1v1h-1zM482 98h1v2h-1zM481 99h1v1h-1zM483 99h1v1h-1zM485 97h1v2h-1zM484 97h1v1h-1zM486 97h1v1h-1zM487 96h1v1h-1zM486 96h1v1h-1zM488 96h1v1h-1zM489 94h1v3h-1zM488 94h1v1h-1zM490 95h1v1h-1zM491 94h1v2h-1zM490 95h1v1h-1zM492 95h1v1h-1zM498 92h1v3h-1zM497 94h1v1h-1zM499 93h1v1h-1zM500 91h1v4h-1zM499 92h1v1h-1zM501 94h1v1h-1zM502 92h1v2h-1zM501 93h1v1h-1zM503 93h1v1h-1zM504 93h1v2h-1zM503 94h1v1h-1zM505 93h1v1h-1zM506 92h1v2h-1zM505 93h1v1h-1zM507 92h1v1h-1zM513 91h1v3h-1zM512 92h1v1h-1zM514 92h1v1h-1zM515 91h1v3h-1zM514 93h1v1h-1zM516 92h1v1h-1zM517 91h1v2h-1zM516 92h1v1h-1zM518 91h1v1h-1zM519 90h1v2h-1zM518 91h1v1h-1zM520 91h1v1h-1zM521 90h1v1h-1zM520 90h1v1h-1zM522 90h1v1h-1zM528 87h1v4h-1zM527 87h1v1h-1zM529 88h1v1h-1zM530 87h1v1h-1zM529 87h1v1h-1zM531 87h1v1h-1zM532 86h1v3h-1zM531 88h1v1h-1zM533 87h1v1h-1zM534 86h1v4h-1zM533 87h1v1h-1zM535 89h1v1h-1zM536 88h1v5h-1zM535 89h1v1h-1zM537 92h1v1h-1zM543 91h1v2h-1zM542 92h1v1h-1zM544 92h1v1h-1zM545 91h1v2h-1zM544 91h1v1h-1zM546 92h1v1h-1zM547 90h1v3h-1zM546 92h1v1h-1zM548 91h1v1h-1zM549 91h1v1h-1zM548 91h1v1h-1zM550 91h1v1h-1zM551 90h1v2h-1zM550 91h1v1h-1zM552 91h1v1h-1zM558 89h1v2h-1zM557 89h1v1h-1zM559 90h1v1h-1zM560 90h1v2h-1zM559 91h1v1h-1zM561 91h1v1h-1zM562 90h1v4h-1zM561 91h1v1h-1zM563 93h1v1h-1zM564 92h1v3h-1zM563 94h1v1h-1zM565 92h1v1h-1zM566 90h1v3h-1zM565 90h1v1h-1zM567 91h1v1h-1zM573 90h1v1h-1zM572 90h1v1h-1zM574 90h1v1h-1zM575 88h1v4h-1zM574 91h1v1h-1zM576 89h1v1h-1zM577 87h1v3h-1zM576 87h1v1h-1zM578 88h1v1h-1zM579 86h1v3h-1zM578 88h1v1h-1zM580 87h1v1h-1zM581 86h1v2h-1zM580 87h1v1h-1zM582 86h1v1h-1zM588 83h1v3h-1zM587 83h1v1h-1zM589 84h1v1h-1zM590 83h1v2h-1zM589 84h1v1h-1zM591 84h1v1h-1zM592 84h1v1h-1zM591 84h1v1h-1zM593 84h1v1h-1zM594 83h1v3h-1zM593 84h1v1h-1zM595 85h1v1h-1zM597 84h1v4h-1zM596 85h1v1h-1zM598 87h1v1h-1zM603 84h1v3h-1zM602 86h1v1h-1zM604 85h1v1h-1zM605 84h1v3h-1zM604 85h1v1h-1zM606 86h1v1h-1zM607 85h1v3h-1zM606 86h1v1h-1zM608 87h1v1h-1zM609 86h1v4h-1zM608 87h1v1h-1zM610 88h1v1h-1zM612 87h1v3h-1zM611 88h1v1h-1zM613 89h1v1h-1zM618 88h1v3h-1zM617 89h1v1h-1zM619 90h1v1h-1zM620 89h1v2h-1zM619 89h1v1h-1zM621 90h1v1h-1zM622 88h1v3h-1zM621 90h1v1h-1zM623 89h1v1h-1zM625 87h1v2h-1zM624 88h1v1h-1zM626 88h1v1h-1zM627 87h1v2h-1zM626 88h1v1h-1zM628 88h1v1h-1zM633 86h1v2h-1zM632 87h1v1h-1zM634 87h1v1h-1zM635 85h1v3h-1zM634 87h1v1h-1zM636 86h1v1h-1zM637 86h1v1h-1zM636 86h1v1h-1zM638 86h1v1h-1zM640 85h1v2h-1zM639 86h1v1h-1zM641 85h1v1h-1zM642 84h1v3h-1zM641 86h1v1h-1zM643 85h1v1h-1zM648 83h1v3h-1zM647 85h1v1h-1zM649 84h1v1h-1zM650 81h1v4h-1zM649 84h1v1h-1zM651 82h1v1h-1zM653 80h1v4h-1zM652 83h1v1h-1zM654 81h1v1h-1zM655 79h1v3h-1zM654 81h1v1h-1zM656 79h1v1h-1zM657 76h1v4h-1zM656 79h1v1h-1zM658 78h1v1h-1zM663 77h1v2h-1zM662 77h1v1h-1zM664 78h1v1h-1zM665 77h1v2h-1zM664 78h1v1h-1zM666 78h1v1h-1zM668 77h1v3h-1zM667 79h1v1h-1zM669 79h1v1h-1zM670 77h1v4h-1zM669 80h1v1h-1zM671 78h1v1h-1zM672 75h1v4h-1zM671 78h1v1h-1zM673 76h1v1h-1zM678 75h1v3h-1zM677 76h1v1h-1zM679 77h1v1h-1zM681 76h1v1h-1zM680 76h1v1h-1zM682 76h1v1h-1zM683 75h1v2h-1zM682 76h1v1h-1zM684 75h1v1h-1zM685 74h1v3h-1zM684 76h1v1h-1zM686 75h1v1h-1zM687 74h1v2h-1zM686 75h1v1h-1zM688 74h1v1h-1zM693 72h1v3h-1zM692 74h1v1h-1zM694 72h1v1h-1zM696 70h1v3h-1zM695 72h1v1h-1zM697 71h1v1h-1zM698 69h1v3h-1zM697 71h1v1h-1zM699 70h1v1h-1zM700 68h1v3h-1zM699 69h1v1h-1zM701 70h1v1h-1zM702 71h1v2h-1zM701 71h1v1h-1zM703 72h1v1h-1zM709 71h1v2h-1zM708 72h1v1h-1zM710 72h1v1h-1zM711 67h1v5h-1zM710 67h1v1h-1zM712 68h1v1h-1zM713 63h1v5h-1zM712 63h1v1h-1zM714 64h1v1h-1zM715 63h1v3h-1zM714 65h1v1h-1zM716 65h1v1h-1zM717 65h1v3h-1zM716 66h1v1h-1zM718 67h1v1h-1zM724 65h1v2h-1zM723 65h1v1h-1zM725 66h1v1h-1zM726 65h1v2h-1zM725 65h1v1h-1zM727 65h1v1h-1zM728 64h1v2h-1zM727 65h1v1h-1zM729 64h1v1h-1zM730 64h1v3h-1zM729 64h1v1h-1zM731 66h1v1h-1zM732 66h1v2h-1zM731 66h1v1h-1zM733 67h1v1h-1zM739 62h1v7h-1zM738 68h1v1h-1zM740 63h1v1h-1zM741 62h1v1h-1zM740 62h1v1h-1zM742 62h1v1h-1zM743 60h1v3h-1zM742 62h1v1h-1zM744 61h1v1h-1zM745 59h1v3h-1zM744 61h1v1h-1zM746 59h1v1h-1zM747 58h1v3h-1zM746 60h1v1h-1zM748 58h1v1h-1zM754 56h1v2h-1zM753 56h1v1h-1zM755 56h1v1h-1zM756 54h1v4h-1zM755 57h1v1h-1zM757 54h1v1h-1zM758 53h1v2h-1zM757 53h1v1h-1zM759 53h1v1h-1zM760 53h1v3h-1zM759 54h1v1h-1zM761 55h1v1h-1zM762 54h1v3h-1zM761 55h1v1h-1zM763 56h1v1h-1zM769 55h1v2h-1zM768 55h1v1h-1zM770 56h1v1h-1zM771 55h1v2h-1zM770 56h1v1h-1zM772 56h1v1h-1zM773 56h1v1h-1zM772 56h1v1h-1zM774 56h1v1h-1zM775 56h1v3h-1zM774 57h1v1h-1zM776 58h1v1h-1zM777 57h1v2h-1zM776 57h1v1h-1zM778 58h1v1h-1zM784 58h1v4h-1zM783 58h1v1h-1zM785 61h1v1h-1zM786 60h1v3h-1zM785 61h1v1h-1zM787 62h1v1h-1zM788 62h1v3h-1zM787 62h1v1h-1zM789 64h1v1h-1zM790 63h1v1h-1zM789 63h1v1h-1zM791 63h1v1h-1zM792 61h1v2h-1zM791 61h1v1h-1zM793 62h1v1h-1zM799 59h1v4h-1zM798 62h1v1h-1zM800 59h1v1h-1zM801 58h1v2h-1zM800 59h1v1h-1zM802 59h1v1h-1zM803 57h1v4h-1zM802 59h1v1h-1zM804 58h1v1h-1zM805 57h1v2h-1zM804 57h1v1h-1zM806 57h1v1h-1zM808 56h1v2h-1zM807 56h1v1h-1zM809 57h1v1h-1zM814 54h1v4h-1zM813 57h1v1h-1zM815 55h1v1h-1zM816 54h1v2h-1zM815 54h1v1h-1zM817 55h1v1h-1zM818 55h1v4h-1zM817 56h1v1h-1zM819 58h1v1h-1zM820 57h1v3h-1zM819 57h1v1h-1zM821 59h1v1h-1zM823 58h1v4h-1zM822 59h1v1h-1zM824 61h1v1h-1zM829 59h1v2h-1zM828 60h1v1h-1zM830 60h1v1h-1zM831 57h1v3h-1zM830 59h1v1h-1zM832 58h1v1h-1zM833 57h1v3h-1zM832 59h1v1h-1zM834 57h1v1h-1zM836 56h1v3h-1zM835 57h1v1h-1zM837 58h1v1h-1zM838 58h1v2h-1zM837 58h1v1h-1zM839 59h1v1h-1z"/>
</g>
<g font-size="11" fill="#000000">
<text x="54" y="233.2" text-anchor="end">16</text>
<text x="54" y="209.2" text-anchor="end">17</text>
<text x="54" y="184.2" text-anchor="end">18</text>
<text x="54" y="160.2" text-anchor="end">19</text>
<text x="54" y="136.2" text-anchor="end">20</text>
<text x="54" y="112.2" text-anchor="end">21</text>
<text x="54" y="87.2" text-anchor="end">22</text>
<text x="54" y="63.2" text-anchor="end">23</text>
<text x="54" y="39.2" text-anchor="end">24</text>
<text x="848" y="233.2">50</text>
<text x="848" y="205.2">100</text>
<text x="848" y="178.2">150</text>
<text x="848" y="150.2">200</text>
<text x="848" y="122.2">250</text>
<text x="848" y="94.2">300</text>
<text x="848" y="67.2">350</text>
<text x="848" y="39.2">400</text>
<text x="848" y="644.2">20</text>
<text x="848" y="622.2">25</text>
<text x="848" y="600.2">30</text>
<text x="848" y="579.2">35</text>
<text x="848" y="557.2">40</text>
<text x="848" y="535.2">45</text>
<text x="848" y="513.2">50</text>
<text x="848" y="492.2">55</text>
<text x="848" y="470.2">60</text>
<text x="848" y="448.2">65</text>
<text x="848" y="426.2">70</text>
<text x="848" y="404.2">75</text>
<text x="848" y="383.2">80</text>
<text x="848" y="361.2">85</text>
<text x="848" y="339.2">90</text>
<text x="848" y="317.2">95</text>
<text x="848" y="296.2">100</text>
<text x="848" y="274.2">105</text>
<text x="848" y="252.2">110</text>
<text x="114.5" y="655.9" text-anchor="middle" font-weight="bold">2024</text>
<text x="178.5" y="655.9" text-anchor="middle">Dec</text>
<text x="245.5" y="655.9" text-anchor="middle" font-weight="bold">2025</text>
<text x="312.5" y="655.9" text-anchor="middle">Feb</text>
<text x="372.5" y="655.9" text-anchor="middle">Mar</text>
<text x="439.5" y="655.9" text-anchor="middle">Apr</text>
<text x="503.5" y="655.9" text-anchor="middle">May</text>
<text x="570.5" y="655.9" text-anchor="middle">Jun</text>
<text x="635.5" y="655.9" text-anchor="middle">Jul</text>
<text x="701.5" y="655.9" text-anchor="middle">Aug</text>
<text x="768.5" y="655.9" text-anchor="middle">Sep</text>
<text x="833.5" y="655.9" text-anchor="middle">Oct</text>
</g>
<g font-size="13.6" fill="#000000" lengthAdjust="spacingAndGlyphs">
<text x="71" y="47.6" textLength="72.3" lengthAdjust="spacingAndGlyphs">Milk = 16.94</text>
<text x="413.7" y="47.6" xml:space="preserve" textLength="75.5" lengthAdjust="spacingAndGlyphs">Oct-03  2025</text>
<text x="716" y="47.6" textLength="115.2" lengthAdjust="spacingAndGlyphs">Feeder Cattle = 357</text>
<text x="716" y="62.6" textLength="97.6" lengthAdjust="spacingAndGlyphs">Live Cattle = 231</text>
<text x="716" y="77.6" textLength="92.5" lengthAdjust="spacingAndGlyphs">Lean Hogs = 99</text>
<text x="308.7" y="248.1" textLength="290" lengthAdjust="spacingAndGlyphs">Raptors - Net Commercials Less 8 Largest Shorts</text>
<text x="746.1" y="248.1" textLength="80.8" lengthAdjust="spacingAndGlyphs">Last = 29,301</text>
</g>
<text x="353.5" y="669" font-size="11.3" fill="#000000" textLength="221.5" lengthAdjust="spacingAndGlyphs">world gold charts © www.goldchartsrus.com</text>
<text transform="translate(32,150.8) rotate(-90)" font-size="17" font-weight="bold" fill="#0cb80c" textLength="30.5" lengthAdjust="spacingAndGlyphs">Milk</text>
<text transform="translate(888,509.5) rotate(-90)" font-size="17" font-weight="bold" fill="#000000" textLength="142.5" lengthAdjust="spacingAndGlyphs">1000s of Contracts</text>
<text transform="translate(887,222.5) rotate(-90)" font-size="17" font-weight="bold" fill="#000000" textLength="174.3" lengthAdjust="spacingAndGlyphs"><tspan fill="#0000a8">F-Cattle</tspan>, <tspan fill="#0000ff">L-Cattle</tspan>, <tspan fill="#ff0000">Hogs</tspan></text>
</svg></body></html>
